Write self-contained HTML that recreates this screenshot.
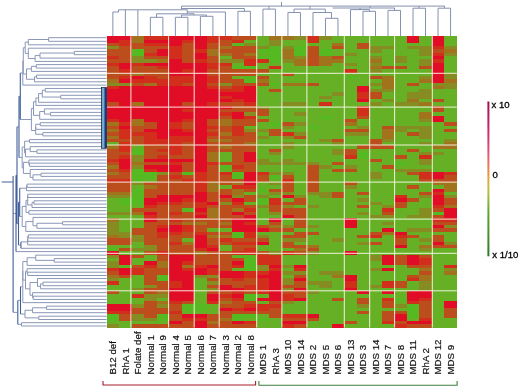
<!DOCTYPE html>
<html><head><meta charset="utf-8"><style>
html,body{margin:0;padding:0;background:#fff;}
body{width:520px;height:388px;overflow:hidden;}
svg{display:block;}
</style></head><body>
<svg width="520" height="388" viewBox="0 0 520 388">
<defs><filter id="bl" x="-5%" y="-5%" width="110%" height="110%"><feGaussianBlur stdDeviation="0.7"/></filter><filter id="bl2" x="-5%" y="-5%" width="110%" height="110%"><feGaussianBlur stdDeviation="0.35"/></filter></defs>
<g filter="url(#bl)"><g shape-rendering="crispEdges"><rect x="106.6" y="36.2" width="12.56" height="6.67" fill="#e10f28"/><rect x="106.6" y="42.82" width="12.56" height="3.36" fill="#bc4e1b"/><rect x="106.6" y="46.13" width="12.56" height="3.36" fill="#878c23"/><rect x="106.6" y="49.45" width="12.56" height="6.67" fill="#bc4e1b"/><rect x="106.6" y="56.07" width="12.56" height="3.36" fill="#d22d1e"/><rect x="106.6" y="59.38" width="12.56" height="3.36" fill="#bc4e1b"/><rect x="106.6" y="62.69" width="12.56" height="3.36" fill="#d22d1e"/><rect x="106.6" y="66" width="12.56" height="13.3" fill="#bc4e1b"/><rect x="106.6" y="79.25" width="12.56" height="3.36" fill="#a0731e"/><rect x="106.6" y="82.56" width="12.56" height="3.36" fill="#878c23"/><rect x="106.6" y="85.87" width="12.56" height="3.36" fill="#d22d1e"/><rect x="106.6" y="89.18" width="12.56" height="13.3" fill="#e10f28"/><rect x="106.6" y="102.43" width="12.56" height="3.36" fill="#bc4e1b"/><rect x="106.6" y="105.74" width="12.56" height="13.3" fill="#e10f28"/><rect x="106.6" y="118.98" width="12.56" height="3.36" fill="#d22d1e"/><rect x="106.6" y="122.3" width="12.56" height="3.36" fill="#a0731e"/><rect x="106.6" y="125.61" width="12.56" height="3.36" fill="#bc4e1b"/><rect x="106.6" y="128.92" width="12.56" height="3.36" fill="#a0731e"/><rect x="106.6" y="132.23" width="12.56" height="3.36" fill="#bc4e1b"/><rect x="106.6" y="135.54" width="12.56" height="3.36" fill="#a0731e"/><rect x="106.6" y="138.85" width="12.56" height="3.36" fill="#bc4e1b"/><rect x="106.6" y="142.16" width="12.56" height="3.36" fill="#66b026"/><rect x="106.6" y="145.48" width="12.56" height="3.36" fill="#a0731e"/><rect x="106.6" y="148.79" width="12.56" height="9.98" fill="#bc4e1b"/><rect x="106.6" y="158.72" width="12.56" height="3.36" fill="#d22d1e"/><rect x="106.6" y="162.03" width="12.56" height="3.36" fill="#bc4e1b"/><rect x="106.6" y="165.34" width="12.56" height="3.36" fill="#a0731e"/><rect x="106.6" y="168.65" width="12.56" height="3.36" fill="#bc4e1b"/><rect x="106.6" y="171.97" width="12.56" height="3.36" fill="#a0731e"/><rect x="106.6" y="175.28" width="12.56" height="3.36" fill="#bc4e1b"/><rect x="106.6" y="178.59" width="12.56" height="3.36" fill="#d22d1e"/><rect x="106.6" y="181.9" width="12.56" height="9.98" fill="#bc4e1b"/><rect x="106.6" y="191.83" width="12.56" height="3.36" fill="#a0731e"/><rect x="106.6" y="195.15" width="12.56" height="3.36" fill="#878c23"/><rect x="106.6" y="198.46" width="12.56" height="13.3" fill="#66b026"/><rect x="106.6" y="211.7" width="12.56" height="3.36" fill="#878c23"/><rect x="106.6" y="215.01" width="12.56" height="3.36" fill="#66b026"/><rect x="106.6" y="218.33" width="12.56" height="3.36" fill="#a0731e"/><rect x="106.6" y="221.64" width="12.56" height="13.3" fill="#878c23"/><rect x="106.6" y="234.88" width="12.56" height="3.36" fill="#a0731e"/><rect x="106.6" y="238.19" width="12.56" height="6.67" fill="#bc4e1b"/><rect x="106.6" y="244.82" width="12.56" height="3.36" fill="#66b026"/><rect x="106.6" y="248.13" width="12.56" height="3.36" fill="#55ba22"/><rect x="106.6" y="251.44" width="12.56" height="3.36" fill="#e10f28"/><rect x="106.6" y="254.75" width="12.56" height="3.36" fill="#878c23"/><rect x="106.6" y="258.06" width="12.56" height="3.36" fill="#66b026"/><rect x="106.6" y="261.37" width="12.56" height="6.67" fill="#878c23"/><rect x="106.6" y="268" width="12.56" height="3.36" fill="#d22d1e"/><rect x="106.6" y="271.31" width="12.56" height="3.36" fill="#bc4e1b"/><rect x="106.6" y="274.62" width="12.56" height="3.36" fill="#a0731e"/><rect x="106.6" y="277.93" width="12.56" height="3.36" fill="#878c23"/><rect x="106.6" y="281.24" width="12.56" height="3.36" fill="#d22d1e"/><rect x="106.6" y="284.55" width="12.56" height="6.67" fill="#66b026"/><rect x="106.6" y="291.18" width="12.56" height="3.36" fill="#bc4e1b"/><rect x="106.6" y="294.49" width="12.56" height="9.98" fill="#66b026"/><rect x="106.6" y="304.42" width="12.56" height="6.67" fill="#e10f28"/><rect x="106.6" y="311.04" width="12.56" height="3.36" fill="#d22d1e"/><rect x="106.6" y="314.35" width="12.56" height="6.67" fill="#55ba22"/><rect x="106.6" y="320.98" width="12.56" height="3.36" fill="#66b026"/><rect x="106.6" y="324.29" width="12.56" height="3.36" fill="#878c23"/><rect x="119.11" y="36.2" width="12.56" height="3.36" fill="#e10f28"/><rect x="119.11" y="39.51" width="12.56" height="6.67" fill="#d22d1e"/><rect x="119.11" y="46.13" width="12.56" height="16.61" fill="#bc4e1b"/><rect x="119.11" y="62.69" width="12.56" height="6.67" fill="#e10f28"/><rect x="119.11" y="69.31" width="12.56" height="3.36" fill="#d22d1e"/><rect x="119.11" y="72.62" width="12.56" height="3.36" fill="#bc4e1b"/><rect x="119.11" y="75.94" width="12.56" height="3.36" fill="#d22d1e"/><rect x="119.11" y="79.25" width="12.56" height="3.36" fill="#e10f28"/><rect x="119.11" y="82.56" width="12.56" height="3.36" fill="#878c23"/><rect x="119.11" y="85.87" width="12.56" height="36.48" fill="#e10f28"/><rect x="119.11" y="122.3" width="12.56" height="3.36" fill="#d22d1e"/><rect x="119.11" y="125.61" width="12.56" height="3.36" fill="#e10f28"/><rect x="119.11" y="128.92" width="12.56" height="9.98" fill="#d22d1e"/><rect x="119.11" y="138.85" width="12.56" height="3.36" fill="#bc4e1b"/><rect x="119.11" y="142.16" width="12.56" height="9.98" fill="#d22d1e"/><rect x="119.11" y="152.1" width="12.56" height="3.36" fill="#bc4e1b"/><rect x="119.11" y="155.41" width="12.56" height="3.36" fill="#d22d1e"/><rect x="119.11" y="158.72" width="12.56" height="9.98" fill="#e10f28"/><rect x="119.11" y="168.65" width="12.56" height="3.36" fill="#d22d1e"/><rect x="119.11" y="171.97" width="12.56" height="6.67" fill="#bc4e1b"/><rect x="119.11" y="178.59" width="12.56" height="3.36" fill="#d22d1e"/><rect x="119.11" y="181.9" width="12.56" height="9.98" fill="#bc4e1b"/><rect x="119.11" y="191.83" width="12.56" height="3.36" fill="#a0731e"/><rect x="119.11" y="195.15" width="12.56" height="3.36" fill="#878c23"/><rect x="119.11" y="198.46" width="12.56" height="6.67" fill="#55ba22"/><rect x="119.11" y="205.08" width="12.56" height="6.67" fill="#66b026"/><rect x="119.11" y="211.7" width="12.56" height="3.36" fill="#878c23"/><rect x="119.11" y="215.01" width="12.56" height="16.61" fill="#66b026"/><rect x="119.11" y="231.57" width="12.56" height="6.67" fill="#878c23"/><rect x="119.11" y="238.19" width="12.56" height="6.67" fill="#bc4e1b"/><rect x="119.11" y="244.82" width="12.56" height="3.36" fill="#66b026"/><rect x="119.11" y="248.13" width="12.56" height="3.36" fill="#bc4e1b"/><rect x="119.11" y="251.44" width="12.56" height="3.36" fill="#66b026"/><rect x="119.11" y="254.75" width="12.56" height="9.98" fill="#e10f28"/><rect x="119.11" y="264.68" width="12.56" height="3.36" fill="#66b026"/><rect x="119.11" y="268" width="12.56" height="6.67" fill="#e10f28"/><rect x="119.11" y="274.62" width="12.56" height="3.36" fill="#bc4e1b"/><rect x="119.11" y="277.93" width="12.56" height="26.54" fill="#66b026"/><rect x="119.11" y="304.42" width="12.56" height="6.67" fill="#e10f28"/><rect x="119.11" y="311.04" width="12.56" height="3.36" fill="#d22d1e"/><rect x="119.11" y="314.35" width="12.56" height="6.67" fill="#bc4e1b"/><rect x="119.11" y="320.98" width="12.56" height="6.67" fill="#66b026"/><rect x="131.61" y="36.2" width="12.56" height="6.67" fill="#a0731e"/><rect x="131.61" y="42.82" width="12.56" height="6.67" fill="#bc4e1b"/><rect x="131.61" y="49.45" width="12.56" height="6.67" fill="#55ba22"/><rect x="131.61" y="56.07" width="12.56" height="6.67" fill="#878c23"/><rect x="131.61" y="62.69" width="12.56" height="3.36" fill="#d22d1e"/><rect x="131.61" y="66" width="12.56" height="6.67" fill="#bc4e1b"/><rect x="131.61" y="72.62" width="12.56" height="3.36" fill="#a0731e"/><rect x="131.61" y="75.94" width="12.56" height="3.36" fill="#e10f28"/><rect x="131.61" y="79.25" width="12.56" height="3.36" fill="#d22d1e"/><rect x="131.61" y="82.56" width="12.56" height="3.36" fill="#bc4e1b"/><rect x="131.61" y="85.87" width="12.56" height="16.61" fill="#e10f28"/><rect x="131.61" y="102.43" width="12.56" height="3.36" fill="#a0731e"/><rect x="131.61" y="105.74" width="12.56" height="13.3" fill="#e10f28"/><rect x="131.61" y="118.98" width="12.56" height="6.67" fill="#a0731e"/><rect x="131.61" y="125.61" width="12.56" height="6.67" fill="#bc4e1b"/><rect x="131.61" y="132.23" width="12.56" height="3.36" fill="#d22d1e"/><rect x="131.61" y="135.54" width="12.56" height="9.98" fill="#bc4e1b"/><rect x="131.61" y="145.48" width="12.56" height="3.36" fill="#66b026"/><rect x="131.61" y="148.79" width="12.56" height="6.67" fill="#55ba22"/><rect x="131.61" y="155.41" width="12.56" height="6.67" fill="#878c23"/><rect x="131.61" y="162.03" width="12.56" height="3.36" fill="#a0731e"/><rect x="131.61" y="165.34" width="12.56" height="3.36" fill="#878c23"/><rect x="131.61" y="168.65" width="12.56" height="13.3" fill="#55ba22"/><rect x="131.61" y="181.9" width="12.56" height="3.36" fill="#878c23"/><rect x="131.61" y="185.21" width="12.56" height="3.36" fill="#66b026"/><rect x="131.61" y="188.52" width="12.56" height="16.61" fill="#55ba22"/><rect x="131.61" y="205.08" width="12.56" height="3.36" fill="#66b026"/><rect x="131.61" y="208.39" width="12.56" height="3.36" fill="#bc4e1b"/><rect x="131.61" y="211.7" width="12.56" height="3.36" fill="#a0731e"/><rect x="131.61" y="215.01" width="12.56" height="13.3" fill="#66b026"/><rect x="131.61" y="228.26" width="12.56" height="6.67" fill="#bc4e1b"/><rect x="131.61" y="234.88" width="12.56" height="6.67" fill="#878c23"/><rect x="131.61" y="241.5" width="12.56" height="6.67" fill="#66b026"/><rect x="131.61" y="248.13" width="12.56" height="3.36" fill="#878c23"/><rect x="131.61" y="251.44" width="12.56" height="3.36" fill="#66b026"/><rect x="131.61" y="254.75" width="12.56" height="3.36" fill="#bc4e1b"/><rect x="131.61" y="258.06" width="12.56" height="6.67" fill="#66b026"/><rect x="131.61" y="264.68" width="12.56" height="3.36" fill="#bc4e1b"/><rect x="131.61" y="268" width="12.56" height="6.67" fill="#d22d1e"/><rect x="131.61" y="274.62" width="12.56" height="13.3" fill="#66b026"/><rect x="131.61" y="287.86" width="12.56" height="3.36" fill="#878c23"/><rect x="131.61" y="291.18" width="12.56" height="3.36" fill="#66b026"/><rect x="131.61" y="294.49" width="12.56" height="3.36" fill="#d22d1e"/><rect x="131.61" y="297.8" width="12.56" height="6.67" fill="#66b026"/><rect x="131.61" y="304.42" width="12.56" height="3.36" fill="#878c23"/><rect x="131.61" y="307.73" width="12.56" height="6.67" fill="#bc4e1b"/><rect x="131.61" y="314.35" width="12.56" height="6.67" fill="#878c23"/><rect x="131.61" y="320.98" width="12.56" height="3.36" fill="#66b026"/><rect x="131.61" y="324.29" width="12.56" height="3.36" fill="#bc4e1b"/><rect x="144.12" y="36.2" width="12.56" height="3.36" fill="#d22d1e"/><rect x="144.12" y="39.51" width="12.56" height="3.36" fill="#e10f28"/><rect x="144.12" y="42.82" width="12.56" height="3.36" fill="#d22d1e"/><rect x="144.12" y="46.13" width="12.56" height="6.67" fill="#bc4e1b"/><rect x="144.12" y="52.76" width="12.56" height="3.36" fill="#d22d1e"/><rect x="144.12" y="56.07" width="12.56" height="3.36" fill="#bc4e1b"/><rect x="144.12" y="59.38" width="12.56" height="3.36" fill="#878c23"/><rect x="144.12" y="62.69" width="12.56" height="3.36" fill="#e10f28"/><rect x="144.12" y="66" width="12.56" height="9.98" fill="#bc4e1b"/><rect x="144.12" y="75.94" width="12.56" height="6.67" fill="#d22d1e"/><rect x="144.12" y="82.56" width="12.56" height="3.36" fill="#a0731e"/><rect x="144.12" y="85.87" width="12.56" height="36.48" fill="#e10f28"/><rect x="144.12" y="122.3" width="12.56" height="6.67" fill="#bc4e1b"/><rect x="144.12" y="128.92" width="12.56" height="3.36" fill="#e10f28"/><rect x="144.12" y="132.23" width="12.56" height="13.3" fill="#d22d1e"/><rect x="144.12" y="145.48" width="12.56" height="13.3" fill="#bc4e1b"/><rect x="144.12" y="158.72" width="12.56" height="3.36" fill="#e10f28"/><rect x="144.12" y="162.03" width="12.56" height="3.36" fill="#bc4e1b"/><rect x="144.12" y="165.34" width="12.56" height="3.36" fill="#e10f28"/><rect x="144.12" y="168.65" width="12.56" height="3.36" fill="#d22d1e"/><rect x="144.12" y="171.97" width="12.56" height="6.67" fill="#55ba22"/><rect x="144.12" y="178.59" width="12.56" height="3.36" fill="#66b026"/><rect x="144.12" y="181.9" width="12.56" height="3.36" fill="#bc4e1b"/><rect x="144.12" y="185.21" width="12.56" height="3.36" fill="#a0731e"/><rect x="144.12" y="188.52" width="12.56" height="9.98" fill="#bc4e1b"/><rect x="144.12" y="198.46" width="12.56" height="6.67" fill="#e10f28"/><rect x="144.12" y="205.08" width="12.56" height="3.36" fill="#d22d1e"/><rect x="144.12" y="208.39" width="12.56" height="3.36" fill="#bc4e1b"/><rect x="144.12" y="211.7" width="12.56" height="3.36" fill="#e10f28"/><rect x="144.12" y="215.01" width="12.56" height="3.36" fill="#d22d1e"/><rect x="144.12" y="218.33" width="12.56" height="3.36" fill="#e10f28"/><rect x="144.12" y="221.64" width="12.56" height="23.23" fill="#bc4e1b"/><rect x="144.12" y="244.82" width="12.56" height="6.67" fill="#878c23"/><rect x="144.12" y="251.44" width="12.56" height="3.36" fill="#bc4e1b"/><rect x="144.12" y="254.75" width="12.56" height="6.67" fill="#66b026"/><rect x="144.12" y="261.37" width="12.56" height="3.36" fill="#e10f28"/><rect x="144.12" y="264.68" width="12.56" height="3.36" fill="#d22d1e"/><rect x="144.12" y="268" width="12.56" height="16.61" fill="#bc4e1b"/><rect x="144.12" y="284.55" width="12.56" height="3.36" fill="#878c23"/><rect x="144.12" y="287.86" width="12.56" height="6.67" fill="#bc4e1b"/><rect x="144.12" y="294.49" width="12.56" height="6.67" fill="#878c23"/><rect x="144.12" y="301.11" width="12.56" height="16.61" fill="#bc4e1b"/><rect x="144.12" y="317.67" width="12.56" height="3.36" fill="#878c23"/><rect x="144.12" y="320.98" width="12.56" height="3.36" fill="#66b026"/><rect x="144.12" y="324.29" width="12.56" height="3.36" fill="#bc4e1b"/><rect x="156.63" y="36.2" width="12.56" height="3.36" fill="#d22d1e"/><rect x="156.63" y="39.51" width="12.56" height="3.36" fill="#e10f28"/><rect x="156.63" y="42.82" width="12.56" height="3.36" fill="#d22d1e"/><rect x="156.63" y="46.13" width="12.56" height="3.36" fill="#bc4e1b"/><rect x="156.63" y="49.45" width="12.56" height="6.67" fill="#e10f28"/><rect x="156.63" y="56.07" width="12.56" height="3.36" fill="#bc4e1b"/><rect x="156.63" y="59.38" width="12.56" height="3.36" fill="#a0731e"/><rect x="156.63" y="62.69" width="12.56" height="3.36" fill="#e10f28"/><rect x="156.63" y="66" width="12.56" height="3.36" fill="#d22d1e"/><rect x="156.63" y="69.31" width="12.56" height="9.98" fill="#bc4e1b"/><rect x="156.63" y="79.25" width="12.56" height="6.67" fill="#d22d1e"/><rect x="156.63" y="85.87" width="12.56" height="53.03" fill="#e10f28"/><rect x="156.63" y="138.85" width="12.56" height="6.67" fill="#d22d1e"/><rect x="156.63" y="145.48" width="12.56" height="3.36" fill="#bc4e1b"/><rect x="156.63" y="148.79" width="12.56" height="3.36" fill="#d22d1e"/><rect x="156.63" y="152.1" width="12.56" height="3.36" fill="#bc4e1b"/><rect x="156.63" y="155.41" width="12.56" height="3.36" fill="#d22d1e"/><rect x="156.63" y="158.72" width="12.56" height="3.36" fill="#e10f28"/><rect x="156.63" y="162.03" width="12.56" height="3.36" fill="#bc4e1b"/><rect x="156.63" y="165.34" width="12.56" height="6.67" fill="#e10f28"/><rect x="156.63" y="171.97" width="12.56" height="3.36" fill="#878c23"/><rect x="156.63" y="175.28" width="12.56" height="19.92" fill="#bc4e1b"/><rect x="156.63" y="195.15" width="12.56" height="6.67" fill="#e10f28"/><rect x="156.63" y="201.77" width="12.56" height="3.36" fill="#d22d1e"/><rect x="156.63" y="205.08" width="12.56" height="19.92" fill="#bc4e1b"/><rect x="156.63" y="224.95" width="12.56" height="3.36" fill="#d22d1e"/><rect x="156.63" y="228.26" width="12.56" height="3.36" fill="#e10f28"/><rect x="156.63" y="231.57" width="12.56" height="6.67" fill="#d22d1e"/><rect x="156.63" y="238.19" width="12.56" height="13.3" fill="#bc4e1b"/><rect x="156.63" y="251.44" width="12.56" height="3.36" fill="#d22d1e"/><rect x="156.63" y="254.75" width="12.56" height="6.67" fill="#bc4e1b"/><rect x="156.63" y="261.37" width="12.56" height="6.67" fill="#a0731e"/><rect x="156.63" y="268" width="12.56" height="6.67" fill="#bc4e1b"/><rect x="156.63" y="274.62" width="12.56" height="6.67" fill="#55ba22"/><rect x="156.63" y="281.24" width="12.56" height="9.98" fill="#bc4e1b"/><rect x="156.63" y="291.18" width="12.56" height="3.36" fill="#a0731e"/><rect x="156.63" y="294.49" width="12.56" height="3.36" fill="#878c23"/><rect x="156.63" y="297.8" width="12.56" height="3.36" fill="#66b026"/><rect x="156.63" y="301.11" width="12.56" height="3.36" fill="#a0731e"/><rect x="156.63" y="304.42" width="12.56" height="3.36" fill="#878c23"/><rect x="156.63" y="307.73" width="12.56" height="6.67" fill="#bc4e1b"/><rect x="156.63" y="314.35" width="12.56" height="6.67" fill="#55ba22"/><rect x="156.63" y="320.98" width="12.56" height="3.36" fill="#66b026"/><rect x="156.63" y="324.29" width="12.56" height="3.36" fill="#bc4e1b"/><rect x="169.14" y="36.2" width="12.56" height="9.98" fill="#e10f28"/><rect x="169.14" y="46.13" width="12.56" height="13.3" fill="#d22d1e"/><rect x="169.14" y="59.38" width="12.56" height="16.61" fill="#e10f28"/><rect x="169.14" y="75.94" width="12.56" height="9.98" fill="#d22d1e"/><rect x="169.14" y="85.87" width="12.56" height="36.48" fill="#e10f28"/><rect x="169.14" y="122.3" width="12.56" height="6.67" fill="#d22d1e"/><rect x="169.14" y="128.92" width="12.56" height="6.67" fill="#e10f28"/><rect x="169.14" y="135.54" width="12.56" height="19.92" fill="#d22d1e"/><rect x="169.14" y="155.41" width="12.56" height="3.36" fill="#bc4e1b"/><rect x="169.14" y="158.72" width="12.56" height="3.36" fill="#e10f28"/><rect x="169.14" y="162.03" width="12.56" height="3.36" fill="#d22d1e"/><rect x="169.14" y="165.34" width="12.56" height="6.67" fill="#e10f28"/><rect x="169.14" y="171.97" width="12.56" height="3.36" fill="#bc4e1b"/><rect x="169.14" y="175.28" width="12.56" height="3.36" fill="#d22d1e"/><rect x="169.14" y="178.59" width="12.56" height="16.61" fill="#bc4e1b"/><rect x="169.14" y="195.15" width="12.56" height="6.67" fill="#e10f28"/><rect x="169.14" y="201.77" width="12.56" height="3.36" fill="#d22d1e"/><rect x="169.14" y="205.08" width="12.56" height="6.67" fill="#bc4e1b"/><rect x="169.14" y="211.7" width="12.56" height="3.36" fill="#d22d1e"/><rect x="169.14" y="215.01" width="12.56" height="3.36" fill="#bc4e1b"/><rect x="169.14" y="218.33" width="12.56" height="3.36" fill="#d22d1e"/><rect x="169.14" y="221.64" width="12.56" height="3.36" fill="#bc4e1b"/><rect x="169.14" y="224.95" width="12.56" height="6.67" fill="#e10f28"/><rect x="169.14" y="231.57" width="12.56" height="3.36" fill="#d22d1e"/><rect x="169.14" y="234.88" width="12.56" height="6.67" fill="#bc4e1b"/><rect x="169.14" y="241.5" width="12.56" height="3.36" fill="#d22d1e"/><rect x="169.14" y="244.82" width="12.56" height="9.98" fill="#bc4e1b"/><rect x="169.14" y="254.75" width="12.56" height="26.54" fill="#e10f28"/><rect x="169.14" y="281.24" width="12.56" height="6.67" fill="#d22d1e"/><rect x="169.14" y="287.86" width="12.56" height="13.3" fill="#e10f28"/><rect x="169.14" y="301.11" width="12.56" height="3.36" fill="#d22d1e"/><rect x="169.14" y="304.42" width="12.56" height="6.67" fill="#bc4e1b"/><rect x="169.14" y="311.04" width="12.56" height="3.36" fill="#d22d1e"/><rect x="169.14" y="314.35" width="12.56" height="6.67" fill="#bc4e1b"/><rect x="169.14" y="320.98" width="12.56" height="3.36" fill="#e10f28"/><rect x="169.14" y="324.29" width="12.56" height="3.36" fill="#bc4e1b"/><rect x="181.64" y="36.2" width="12.56" height="3.36" fill="#e10f28"/><rect x="181.64" y="39.51" width="12.56" height="3.36" fill="#d22d1e"/><rect x="181.64" y="42.82" width="12.56" height="19.92" fill="#bc4e1b"/><rect x="181.64" y="62.69" width="12.56" height="6.67" fill="#e10f28"/><rect x="181.64" y="69.31" width="12.56" height="3.36" fill="#d22d1e"/><rect x="181.64" y="72.62" width="12.56" height="3.36" fill="#e10f28"/><rect x="181.64" y="75.94" width="12.56" height="6.67" fill="#d22d1e"/><rect x="181.64" y="82.56" width="12.56" height="3.36" fill="#bc4e1b"/><rect x="181.64" y="85.87" width="12.56" height="16.61" fill="#e10f28"/><rect x="181.64" y="102.43" width="12.56" height="3.36" fill="#bc4e1b"/><rect x="181.64" y="105.74" width="12.56" height="3.36" fill="#e10f28"/><rect x="181.64" y="109.05" width="12.56" height="3.36" fill="#d22d1e"/><rect x="181.64" y="112.36" width="12.56" height="6.67" fill="#e10f28"/><rect x="181.64" y="118.98" width="12.56" height="3.36" fill="#d22d1e"/><rect x="181.64" y="122.3" width="12.56" height="6.67" fill="#bc4e1b"/><rect x="181.64" y="128.92" width="12.56" height="3.36" fill="#d22d1e"/><rect x="181.64" y="132.23" width="12.56" height="3.36" fill="#e10f28"/><rect x="181.64" y="135.54" width="12.56" height="6.67" fill="#d22d1e"/><rect x="181.64" y="142.16" width="12.56" height="16.61" fill="#bc4e1b"/><rect x="181.64" y="158.72" width="12.56" height="3.36" fill="#e10f28"/><rect x="181.64" y="162.03" width="12.56" height="9.98" fill="#bc4e1b"/><rect x="181.64" y="171.97" width="12.56" height="3.36" fill="#55ba22"/><rect x="181.64" y="175.28" width="12.56" height="3.36" fill="#bc4e1b"/><rect x="181.64" y="178.59" width="12.56" height="3.36" fill="#d22d1e"/><rect x="181.64" y="181.9" width="12.56" height="13.3" fill="#bc4e1b"/><rect x="181.64" y="195.15" width="12.56" height="3.36" fill="#e10f28"/><rect x="181.64" y="198.46" width="12.56" height="3.36" fill="#d22d1e"/><rect x="181.64" y="201.77" width="12.56" height="6.67" fill="#bc4e1b"/><rect x="181.64" y="208.39" width="12.56" height="3.36" fill="#55ba22"/><rect x="181.64" y="211.7" width="12.56" height="9.98" fill="#bc4e1b"/><rect x="181.64" y="221.64" width="12.56" height="3.36" fill="#a0731e"/><rect x="181.64" y="224.95" width="12.56" height="6.67" fill="#d22d1e"/><rect x="181.64" y="231.57" width="12.56" height="6.67" fill="#bc4e1b"/><rect x="181.64" y="238.19" width="12.56" height="3.36" fill="#66b026"/><rect x="181.64" y="241.5" width="12.56" height="3.36" fill="#a0731e"/><rect x="181.64" y="244.82" width="12.56" height="9.98" fill="#bc4e1b"/><rect x="181.64" y="254.75" width="12.56" height="6.67" fill="#e10f28"/><rect x="181.64" y="261.37" width="12.56" height="3.36" fill="#d22d1e"/><rect x="181.64" y="264.68" width="12.56" height="3.36" fill="#a0731e"/><rect x="181.64" y="268" width="12.56" height="3.36" fill="#d22d1e"/><rect x="181.64" y="271.31" width="12.56" height="29.85" fill="#e10f28"/><rect x="181.64" y="301.11" width="12.56" height="3.36" fill="#bc4e1b"/><rect x="181.64" y="304.42" width="12.56" height="6.67" fill="#55ba22"/><rect x="181.64" y="311.04" width="12.56" height="3.36" fill="#66b026"/><rect x="181.64" y="314.35" width="12.56" height="3.36" fill="#e10f28"/><rect x="181.64" y="317.67" width="12.56" height="3.36" fill="#d22d1e"/><rect x="181.64" y="320.98" width="12.56" height="6.67" fill="#bc4e1b"/><rect x="194.15" y="36.2" width="12.56" height="13.3" fill="#e10f28"/><rect x="194.15" y="49.45" width="12.56" height="3.36" fill="#d22d1e"/><rect x="194.15" y="52.76" width="12.56" height="6.67" fill="#e10f28"/><rect x="194.15" y="59.38" width="12.56" height="3.36" fill="#d22d1e"/><rect x="194.15" y="62.69" width="12.56" height="109.33" fill="#e10f28"/><rect x="194.15" y="171.97" width="12.56" height="19.92" fill="#d22d1e"/><rect x="194.15" y="191.83" width="12.56" height="9.98" fill="#e10f28"/><rect x="194.15" y="201.77" width="12.56" height="6.67" fill="#d22d1e"/><rect x="194.15" y="208.39" width="12.56" height="3.36" fill="#e10f28"/><rect x="194.15" y="211.7" width="12.56" height="3.36" fill="#d22d1e"/><rect x="194.15" y="215.01" width="12.56" height="3.36" fill="#e10f28"/><rect x="194.15" y="218.33" width="12.56" height="3.36" fill="#bc4e1b"/><rect x="194.15" y="221.64" width="12.56" height="3.36" fill="#a0731e"/><rect x="194.15" y="224.95" width="12.56" height="6.67" fill="#bc4e1b"/><rect x="194.15" y="231.57" width="12.56" height="3.36" fill="#d22d1e"/><rect x="194.15" y="234.88" width="12.56" height="13.3" fill="#e10f28"/><rect x="194.15" y="248.13" width="12.56" height="3.36" fill="#d22d1e"/><rect x="194.15" y="251.44" width="12.56" height="3.36" fill="#a0731e"/><rect x="194.15" y="254.75" width="12.56" height="9.98" fill="#bc4e1b"/><rect x="194.15" y="264.68" width="12.56" height="3.36" fill="#d22d1e"/><rect x="194.15" y="268" width="12.56" height="6.67" fill="#e10f28"/><rect x="194.15" y="274.62" width="12.56" height="3.36" fill="#878c23"/><rect x="194.15" y="277.93" width="12.56" height="26.54" fill="#66b026"/><rect x="194.15" y="304.42" width="12.56" height="6.67" fill="#55ba22"/><rect x="194.15" y="311.04" width="12.56" height="3.36" fill="#66b026"/><rect x="194.15" y="314.35" width="12.56" height="3.36" fill="#e10f28"/><rect x="194.15" y="317.67" width="12.56" height="3.36" fill="#d22d1e"/><rect x="194.15" y="320.98" width="12.56" height="6.67" fill="#e10f28"/><rect x="206.66" y="36.2" width="12.56" height="6.67" fill="#d22d1e"/><rect x="206.66" y="42.82" width="12.56" height="6.67" fill="#bc4e1b"/><rect x="206.66" y="49.45" width="12.56" height="6.67" fill="#a0731e"/><rect x="206.66" y="56.07" width="12.56" height="6.67" fill="#bc4e1b"/><rect x="206.66" y="62.69" width="12.56" height="6.67" fill="#d22d1e"/><rect x="206.66" y="69.31" width="12.56" height="6.67" fill="#bc4e1b"/><rect x="206.66" y="75.94" width="12.56" height="6.67" fill="#d22d1e"/><rect x="206.66" y="82.56" width="12.56" height="3.36" fill="#bc4e1b"/><rect x="206.66" y="85.87" width="12.56" height="3.36" fill="#d22d1e"/><rect x="206.66" y="89.18" width="12.56" height="13.3" fill="#e10f28"/><rect x="206.66" y="102.43" width="12.56" height="3.36" fill="#d22d1e"/><rect x="206.66" y="105.74" width="12.56" height="13.3" fill="#e10f28"/><rect x="206.66" y="118.98" width="12.56" height="6.67" fill="#bc4e1b"/><rect x="206.66" y="125.61" width="12.56" height="3.36" fill="#d22d1e"/><rect x="206.66" y="128.92" width="12.56" height="3.36" fill="#bc4e1b"/><rect x="206.66" y="132.23" width="12.56" height="3.36" fill="#d22d1e"/><rect x="206.66" y="135.54" width="12.56" height="3.36" fill="#bc4e1b"/><rect x="206.66" y="138.85" width="12.56" height="3.36" fill="#a0731e"/><rect x="206.66" y="142.16" width="12.56" height="9.98" fill="#bc4e1b"/><rect x="206.66" y="152.1" width="12.56" height="9.98" fill="#a0731e"/><rect x="206.66" y="162.03" width="12.56" height="3.36" fill="#d22d1e"/><rect x="206.66" y="165.34" width="12.56" height="16.61" fill="#bc4e1b"/><rect x="206.66" y="181.9" width="12.56" height="9.98" fill="#a0731e"/><rect x="206.66" y="191.83" width="12.56" height="9.98" fill="#bc4e1b"/><rect x="206.66" y="201.77" width="12.56" height="3.36" fill="#e10f28"/><rect x="206.66" y="205.08" width="12.56" height="3.36" fill="#bc4e1b"/><rect x="206.66" y="208.39" width="12.56" height="9.98" fill="#a0731e"/><rect x="206.66" y="218.33" width="12.56" height="9.98" fill="#bc4e1b"/><rect x="206.66" y="228.26" width="12.56" height="3.36" fill="#66b026"/><rect x="206.66" y="231.57" width="12.56" height="3.36" fill="#bc4e1b"/><rect x="206.66" y="234.88" width="12.56" height="3.36" fill="#a0731e"/><rect x="206.66" y="238.19" width="12.56" height="6.67" fill="#bc4e1b"/><rect x="206.66" y="244.82" width="12.56" height="3.36" fill="#d22d1e"/><rect x="206.66" y="248.13" width="12.56" height="3.36" fill="#e10f28"/><rect x="206.66" y="251.44" width="12.56" height="13.3" fill="#bc4e1b"/><rect x="206.66" y="264.68" width="12.56" height="3.36" fill="#e10f28"/><rect x="206.66" y="268" width="12.56" height="6.67" fill="#d22d1e"/><rect x="206.66" y="274.62" width="12.56" height="3.36" fill="#878c23"/><rect x="206.66" y="277.93" width="12.56" height="3.36" fill="#bc4e1b"/><rect x="206.66" y="281.24" width="12.56" height="3.36" fill="#878c23"/><rect x="206.66" y="284.55" width="12.56" height="3.36" fill="#bc4e1b"/><rect x="206.66" y="287.86" width="12.56" height="3.36" fill="#878c23"/><rect x="206.66" y="291.18" width="12.56" height="3.36" fill="#bc4e1b"/><rect x="206.66" y="294.49" width="12.56" height="6.67" fill="#e10f28"/><rect x="206.66" y="301.11" width="12.56" height="3.36" fill="#d22d1e"/><rect x="206.66" y="304.42" width="12.56" height="9.98" fill="#66b026"/><rect x="206.66" y="314.35" width="12.56" height="6.67" fill="#bc4e1b"/><rect x="206.66" y="320.98" width="12.56" height="3.36" fill="#a0731e"/><rect x="206.66" y="324.29" width="12.56" height="3.36" fill="#bc4e1b"/><rect x="219.16" y="36.2" width="12.56" height="3.36" fill="#d22d1e"/><rect x="219.16" y="39.51" width="12.56" height="6.67" fill="#bc4e1b"/><rect x="219.16" y="46.13" width="12.56" height="3.36" fill="#a0731e"/><rect x="219.16" y="49.45" width="12.56" height="3.36" fill="#bc4e1b"/><rect x="219.16" y="52.76" width="12.56" height="3.36" fill="#a0731e"/><rect x="219.16" y="56.07" width="12.56" height="3.36" fill="#66b026"/><rect x="219.16" y="59.38" width="12.56" height="3.36" fill="#878c23"/><rect x="219.16" y="62.69" width="12.56" height="3.36" fill="#d22d1e"/><rect x="219.16" y="66" width="12.56" height="16.61" fill="#bc4e1b"/><rect x="219.16" y="82.56" width="12.56" height="3.36" fill="#878c23"/><rect x="219.16" y="85.87" width="12.56" height="3.36" fill="#bc4e1b"/><rect x="219.16" y="89.18" width="12.56" height="3.36" fill="#d22d1e"/><rect x="219.16" y="92.49" width="12.56" height="3.36" fill="#e10f28"/><rect x="219.16" y="95.8" width="12.56" height="3.36" fill="#d22d1e"/><rect x="219.16" y="99.12" width="12.56" height="3.36" fill="#e10f28"/><rect x="219.16" y="102.43" width="12.56" height="3.36" fill="#bc4e1b"/><rect x="219.16" y="105.74" width="12.56" height="3.36" fill="#e10f28"/><rect x="219.16" y="109.05" width="12.56" height="3.36" fill="#bc4e1b"/><rect x="219.16" y="112.36" width="12.56" height="3.36" fill="#d22d1e"/><rect x="219.16" y="115.67" width="12.56" height="3.36" fill="#bc4e1b"/><rect x="219.16" y="118.98" width="12.56" height="6.67" fill="#a0731e"/><rect x="219.16" y="125.61" width="12.56" height="6.67" fill="#bc4e1b"/><rect x="219.16" y="132.23" width="12.56" height="3.36" fill="#a0731e"/><rect x="219.16" y="135.54" width="12.56" height="3.36" fill="#bc4e1b"/><rect x="219.16" y="138.85" width="12.56" height="3.36" fill="#a0731e"/><rect x="219.16" y="142.16" width="12.56" height="3.36" fill="#bc4e1b"/><rect x="219.16" y="145.48" width="12.56" height="3.36" fill="#a0731e"/><rect x="219.16" y="148.79" width="12.56" height="3.36" fill="#bc4e1b"/><rect x="219.16" y="152.1" width="12.56" height="9.98" fill="#66b026"/><rect x="219.16" y="162.03" width="12.56" height="3.36" fill="#bc4e1b"/><rect x="219.16" y="165.34" width="12.56" height="3.36" fill="#55ba22"/><rect x="219.16" y="168.65" width="12.56" height="3.36" fill="#66b026"/><rect x="219.16" y="171.97" width="12.56" height="3.36" fill="#d22d1e"/><rect x="219.16" y="175.28" width="12.56" height="9.98" fill="#bc4e1b"/><rect x="219.16" y="185.21" width="12.56" height="3.36" fill="#66b026"/><rect x="219.16" y="188.52" width="12.56" height="6.67" fill="#bc4e1b"/><rect x="219.16" y="195.15" width="12.56" height="3.36" fill="#e10f28"/><rect x="219.16" y="198.46" width="12.56" height="3.36" fill="#bc4e1b"/><rect x="219.16" y="201.77" width="12.56" height="3.36" fill="#878c23"/><rect x="219.16" y="205.08" width="12.56" height="16.61" fill="#bc4e1b"/><rect x="219.16" y="221.64" width="12.56" height="3.36" fill="#a0731e"/><rect x="219.16" y="224.95" width="12.56" height="3.36" fill="#bc4e1b"/><rect x="219.16" y="228.26" width="12.56" height="3.36" fill="#66b026"/><rect x="219.16" y="231.57" width="12.56" height="3.36" fill="#bc4e1b"/><rect x="219.16" y="234.88" width="12.56" height="3.36" fill="#a0731e"/><rect x="219.16" y="238.19" width="12.56" height="3.36" fill="#d22d1e"/><rect x="219.16" y="241.5" width="12.56" height="3.36" fill="#bc4e1b"/><rect x="219.16" y="244.82" width="12.56" height="6.67" fill="#66b026"/><rect x="219.16" y="251.44" width="12.56" height="19.92" fill="#bc4e1b"/><rect x="219.16" y="271.31" width="12.56" height="6.67" fill="#e10f28"/><rect x="219.16" y="277.93" width="12.56" height="6.67" fill="#bc4e1b"/><rect x="219.16" y="284.55" width="12.56" height="6.67" fill="#e10f28"/><rect x="219.16" y="291.18" width="12.56" height="3.36" fill="#bc4e1b"/><rect x="219.16" y="294.49" width="12.56" height="3.36" fill="#d22d1e"/><rect x="219.16" y="297.8" width="12.56" height="3.36" fill="#bc4e1b"/><rect x="219.16" y="301.11" width="12.56" height="3.36" fill="#a0731e"/><rect x="219.16" y="304.42" width="12.56" height="3.36" fill="#bc4e1b"/><rect x="219.16" y="307.73" width="12.56" height="3.36" fill="#e10f28"/><rect x="219.16" y="311.04" width="12.56" height="6.67" fill="#bc4e1b"/><rect x="219.16" y="317.67" width="12.56" height="3.36" fill="#a0731e"/><rect x="219.16" y="320.98" width="12.56" height="6.67" fill="#bc4e1b"/><rect x="231.67" y="36.2" width="12.56" height="3.36" fill="#bc4e1b"/><rect x="231.67" y="39.51" width="12.56" height="3.36" fill="#d22d1e"/><rect x="231.67" y="42.82" width="12.56" height="3.36" fill="#55ba22"/><rect x="231.67" y="46.13" width="12.56" height="13.3" fill="#bc4e1b"/><rect x="231.67" y="59.38" width="12.56" height="3.36" fill="#878c23"/><rect x="231.67" y="62.69" width="12.56" height="3.36" fill="#66b026"/><rect x="231.67" y="66" width="12.56" height="3.36" fill="#55ba22"/><rect x="231.67" y="69.31" width="12.56" height="6.67" fill="#bc4e1b"/><rect x="231.67" y="75.94" width="12.56" height="3.36" fill="#66b026"/><rect x="231.67" y="79.25" width="12.56" height="6.67" fill="#bc4e1b"/><rect x="231.67" y="85.87" width="12.56" height="6.67" fill="#d22d1e"/><rect x="231.67" y="92.49" width="12.56" height="6.67" fill="#e10f28"/><rect x="231.67" y="99.12" width="12.56" height="3.36" fill="#d22d1e"/><rect x="231.67" y="102.43" width="12.56" height="9.98" fill="#bc4e1b"/><rect x="231.67" y="112.36" width="12.56" height="6.67" fill="#e10f28"/><rect x="231.67" y="118.98" width="12.56" height="6.67" fill="#bc4e1b"/><rect x="231.67" y="125.61" width="12.56" height="9.98" fill="#d22d1e"/><rect x="231.67" y="135.54" width="12.56" height="29.85" fill="#bc4e1b"/><rect x="231.67" y="165.34" width="12.56" height="3.36" fill="#d22d1e"/><rect x="231.67" y="168.65" width="12.56" height="3.36" fill="#bc4e1b"/><rect x="231.67" y="171.97" width="12.56" height="6.67" fill="#55ba22"/><rect x="231.67" y="178.59" width="12.56" height="3.36" fill="#bc4e1b"/><rect x="231.67" y="181.9" width="12.56" height="3.36" fill="#a0731e"/><rect x="231.67" y="185.21" width="12.56" height="3.36" fill="#d22d1e"/><rect x="231.67" y="188.52" width="12.56" height="6.67" fill="#a0731e"/><rect x="231.67" y="195.15" width="12.56" height="3.36" fill="#878c23"/><rect x="231.67" y="198.46" width="12.56" height="3.36" fill="#e10f28"/><rect x="231.67" y="201.77" width="12.56" height="3.36" fill="#d22d1e"/><rect x="231.67" y="205.08" width="12.56" height="3.36" fill="#bc4e1b"/><rect x="231.67" y="208.39" width="12.56" height="3.36" fill="#a0731e"/><rect x="231.67" y="211.7" width="12.56" height="3.36" fill="#e10f28"/><rect x="231.67" y="215.01" width="12.56" height="3.36" fill="#bc4e1b"/><rect x="231.67" y="218.33" width="12.56" height="13.3" fill="#e10f28"/><rect x="231.67" y="231.57" width="12.56" height="6.67" fill="#55ba22"/><rect x="231.67" y="238.19" width="12.56" height="3.36" fill="#bc4e1b"/><rect x="231.67" y="241.5" width="12.56" height="3.36" fill="#d22d1e"/><rect x="231.67" y="244.82" width="12.56" height="6.67" fill="#bc4e1b"/><rect x="231.67" y="251.44" width="12.56" height="3.36" fill="#d22d1e"/><rect x="231.67" y="254.75" width="12.56" height="3.36" fill="#55ba22"/><rect x="231.67" y="258.06" width="12.56" height="3.36" fill="#bc4e1b"/><rect x="231.67" y="261.37" width="12.56" height="3.36" fill="#e10f28"/><rect x="231.67" y="264.68" width="12.56" height="3.36" fill="#d22d1e"/><rect x="231.67" y="268" width="12.56" height="3.36" fill="#66b026"/><rect x="231.67" y="271.31" width="12.56" height="6.67" fill="#e10f28"/><rect x="231.67" y="277.93" width="12.56" height="3.36" fill="#d22d1e"/><rect x="231.67" y="281.24" width="12.56" height="6.67" fill="#bc4e1b"/><rect x="231.67" y="287.86" width="12.56" height="3.36" fill="#e10f28"/><rect x="231.67" y="291.18" width="12.56" height="3.36" fill="#d22d1e"/><rect x="231.67" y="294.49" width="12.56" height="3.36" fill="#e10f28"/><rect x="231.67" y="297.8" width="12.56" height="3.36" fill="#d22d1e"/><rect x="231.67" y="301.11" width="12.56" height="6.67" fill="#bc4e1b"/><rect x="231.67" y="307.73" width="12.56" height="3.36" fill="#d22d1e"/><rect x="231.67" y="311.04" width="12.56" height="3.36" fill="#bc4e1b"/><rect x="231.67" y="314.35" width="12.56" height="6.67" fill="#55ba22"/><rect x="231.67" y="320.98" width="12.56" height="3.36" fill="#e10f28"/><rect x="231.67" y="324.29" width="12.56" height="3.36" fill="#bc4e1b"/><rect x="244.18" y="36.2" width="12.56" height="3.36" fill="#bc4e1b"/><rect x="244.18" y="39.51" width="12.56" height="3.36" fill="#66b026"/><rect x="244.18" y="42.82" width="12.56" height="3.36" fill="#878c23"/><rect x="244.18" y="46.13" width="12.56" height="6.67" fill="#bc4e1b"/><rect x="244.18" y="52.76" width="12.56" height="3.36" fill="#a0731e"/><rect x="244.18" y="56.07" width="12.56" height="3.36" fill="#bc4e1b"/><rect x="244.18" y="59.38" width="12.56" height="6.67" fill="#d22d1e"/><rect x="244.18" y="66" width="12.56" height="3.36" fill="#55ba22"/><rect x="244.18" y="69.31" width="12.56" height="6.67" fill="#bc4e1b"/><rect x="244.18" y="75.94" width="12.56" height="6.67" fill="#55ba22"/><rect x="244.18" y="82.56" width="12.56" height="3.36" fill="#bc4e1b"/><rect x="244.18" y="85.87" width="12.56" height="16.61" fill="#e10f28"/><rect x="244.18" y="102.43" width="12.56" height="3.36" fill="#d22d1e"/><rect x="244.18" y="105.74" width="12.56" height="6.67" fill="#bc4e1b"/><rect x="244.18" y="112.36" width="12.56" height="3.36" fill="#878c23"/><rect x="244.18" y="115.67" width="12.56" height="3.36" fill="#d22d1e"/><rect x="244.18" y="118.98" width="12.56" height="6.67" fill="#bc4e1b"/><rect x="244.18" y="125.61" width="12.56" height="3.36" fill="#66b026"/><rect x="244.18" y="128.92" width="12.56" height="3.36" fill="#878c23"/><rect x="244.18" y="132.23" width="12.56" height="9.98" fill="#bc4e1b"/><rect x="244.18" y="142.16" width="12.56" height="3.36" fill="#a0731e"/><rect x="244.18" y="145.48" width="12.56" height="6.67" fill="#bc4e1b"/><rect x="244.18" y="152.1" width="12.56" height="9.98" fill="#e10f28"/><rect x="244.18" y="162.03" width="12.56" height="9.98" fill="#bc4e1b"/><rect x="244.18" y="171.97" width="12.56" height="13.3" fill="#e10f28"/><rect x="244.18" y="185.21" width="12.56" height="3.36" fill="#d22d1e"/><rect x="244.18" y="188.52" width="12.56" height="3.36" fill="#bc4e1b"/><rect x="244.18" y="191.83" width="12.56" height="3.36" fill="#66b026"/><rect x="244.18" y="195.15" width="12.56" height="6.67" fill="#bc4e1b"/><rect x="244.18" y="201.77" width="12.56" height="3.36" fill="#66b026"/><rect x="244.18" y="205.08" width="12.56" height="3.36" fill="#bc4e1b"/><rect x="244.18" y="208.39" width="12.56" height="3.36" fill="#d22d1e"/><rect x="244.18" y="211.7" width="12.56" height="3.36" fill="#bc4e1b"/><rect x="244.18" y="215.01" width="12.56" height="6.67" fill="#e10f28"/><rect x="244.18" y="221.64" width="12.56" height="3.36" fill="#d22d1e"/><rect x="244.18" y="224.95" width="12.56" height="6.67" fill="#e10f28"/><rect x="244.18" y="231.57" width="12.56" height="6.67" fill="#d22d1e"/><rect x="244.18" y="238.19" width="12.56" height="3.36" fill="#bc4e1b"/><rect x="244.18" y="241.5" width="12.56" height="3.36" fill="#d22d1e"/><rect x="244.18" y="244.82" width="12.56" height="3.36" fill="#bc4e1b"/><rect x="244.18" y="248.13" width="12.56" height="6.67" fill="#d22d1e"/><rect x="244.18" y="254.75" width="12.56" height="16.61" fill="#55ba22"/><rect x="244.18" y="271.31" width="12.56" height="6.67" fill="#d22d1e"/><rect x="244.18" y="277.93" width="12.56" height="6.67" fill="#bc4e1b"/><rect x="244.18" y="284.55" width="12.56" height="6.67" fill="#d22d1e"/><rect x="244.18" y="291.18" width="12.56" height="3.36" fill="#bc4e1b"/><rect x="244.18" y="294.49" width="12.56" height="6.67" fill="#55ba22"/><rect x="244.18" y="301.11" width="12.56" height="3.36" fill="#bc4e1b"/><rect x="244.18" y="304.42" width="12.56" height="3.36" fill="#d22d1e"/><rect x="244.18" y="307.73" width="12.56" height="3.36" fill="#e10f28"/><rect x="244.18" y="311.04" width="12.56" height="3.36" fill="#bc4e1b"/><rect x="244.18" y="314.35" width="12.56" height="3.36" fill="#55ba22"/><rect x="244.18" y="317.67" width="12.56" height="3.36" fill="#66b026"/><rect x="244.18" y="320.98" width="12.56" height="3.36" fill="#d22d1e"/><rect x="244.18" y="324.29" width="12.56" height="3.36" fill="#bc4e1b"/><rect x="256.69" y="36.2" width="12.56" height="9.98" fill="#66b026"/><rect x="256.69" y="46.13" width="12.56" height="3.36" fill="#878c23"/><rect x="256.69" y="49.45" width="12.56" height="3.36" fill="#55ba22"/><rect x="256.69" y="52.76" width="12.56" height="3.36" fill="#66b026"/><rect x="256.69" y="56.07" width="12.56" height="3.36" fill="#55ba22"/><rect x="256.69" y="59.38" width="12.56" height="3.36" fill="#d22d1e"/><rect x="256.69" y="62.69" width="12.56" height="6.67" fill="#66b026"/><rect x="256.69" y="69.31" width="12.56" height="3.36" fill="#bc4e1b"/><rect x="256.69" y="72.62" width="12.56" height="3.36" fill="#66b026"/><rect x="256.69" y="75.94" width="12.56" height="3.36" fill="#bc4e1b"/><rect x="256.69" y="79.25" width="12.56" height="3.36" fill="#a0731e"/><rect x="256.69" y="82.56" width="12.56" height="3.36" fill="#bc4e1b"/><rect x="256.69" y="85.87" width="12.56" height="19.92" fill="#66b026"/><rect x="256.69" y="105.74" width="12.56" height="3.36" fill="#878c23"/><rect x="256.69" y="109.05" width="12.56" height="6.67" fill="#bc4e1b"/><rect x="256.69" y="115.67" width="12.56" height="3.36" fill="#66b026"/><rect x="256.69" y="118.98" width="12.56" height="3.36" fill="#bc4e1b"/><rect x="256.69" y="122.3" width="12.56" height="6.67" fill="#66b026"/><rect x="256.69" y="128.92" width="12.56" height="3.36" fill="#878c23"/><rect x="256.69" y="132.23" width="12.56" height="3.36" fill="#66b026"/><rect x="256.69" y="135.54" width="12.56" height="3.36" fill="#878c23"/><rect x="256.69" y="138.85" width="12.56" height="19.92" fill="#66b026"/><rect x="256.69" y="158.72" width="12.56" height="6.67" fill="#878c23"/><rect x="256.69" y="165.34" width="12.56" height="6.67" fill="#66b026"/><rect x="256.69" y="171.97" width="12.56" height="3.36" fill="#d22d1e"/><rect x="256.69" y="175.28" width="12.56" height="6.67" fill="#bc4e1b"/><rect x="256.69" y="181.9" width="12.56" height="6.67" fill="#66b026"/><rect x="256.69" y="188.52" width="12.56" height="3.36" fill="#55ba22"/><rect x="256.69" y="191.83" width="12.56" height="3.36" fill="#66b026"/><rect x="256.69" y="195.15" width="12.56" height="3.36" fill="#878c23"/><rect x="256.69" y="198.46" width="12.56" height="6.67" fill="#55ba22"/><rect x="256.69" y="205.08" width="12.56" height="3.36" fill="#878c23"/><rect x="256.69" y="208.39" width="12.56" height="16.61" fill="#66b026"/><rect x="256.69" y="224.95" width="12.56" height="3.36" fill="#bc4e1b"/><rect x="256.69" y="228.26" width="12.56" height="3.36" fill="#e10f28"/><rect x="256.69" y="231.57" width="12.56" height="3.36" fill="#66b026"/><rect x="256.69" y="234.88" width="12.56" height="3.36" fill="#878c23"/><rect x="256.69" y="238.19" width="12.56" height="3.36" fill="#bc4e1b"/><rect x="256.69" y="241.5" width="12.56" height="3.36" fill="#e10f28"/><rect x="256.69" y="244.82" width="12.56" height="6.67" fill="#66b026"/><rect x="256.69" y="251.44" width="12.56" height="3.36" fill="#bc4e1b"/><rect x="256.69" y="254.75" width="12.56" height="9.98" fill="#d22d1e"/><rect x="256.69" y="264.68" width="12.56" height="6.67" fill="#878c23"/><rect x="256.69" y="271.31" width="12.56" height="3.36" fill="#d22d1e"/><rect x="256.69" y="274.62" width="12.56" height="3.36" fill="#e10f28"/><rect x="256.69" y="277.93" width="12.56" height="16.61" fill="#d22d1e"/><rect x="256.69" y="294.49" width="12.56" height="3.36" fill="#66b026"/><rect x="256.69" y="297.8" width="12.56" height="3.36" fill="#e10f28"/><rect x="256.69" y="301.11" width="12.56" height="3.36" fill="#66b026"/><rect x="256.69" y="304.42" width="12.56" height="6.67" fill="#d22d1e"/><rect x="256.69" y="311.04" width="12.56" height="3.36" fill="#bc4e1b"/><rect x="256.69" y="314.35" width="12.56" height="3.36" fill="#66b026"/><rect x="256.69" y="317.67" width="12.56" height="3.36" fill="#55ba22"/><rect x="256.69" y="320.98" width="12.56" height="6.67" fill="#66b026"/><rect x="269.19" y="36.2" width="12.56" height="3.36" fill="#a0731e"/><rect x="269.19" y="39.51" width="12.56" height="6.67" fill="#878c23"/><rect x="269.19" y="46.13" width="12.56" height="16.61" fill="#55ba22"/><rect x="269.19" y="62.69" width="12.56" height="3.36" fill="#66b026"/><rect x="269.19" y="66" width="12.56" height="3.36" fill="#d22d1e"/><rect x="269.19" y="69.31" width="12.56" height="13.3" fill="#66b026"/><rect x="269.19" y="82.56" width="12.56" height="3.36" fill="#55ba22"/><rect x="269.19" y="85.87" width="12.56" height="3.36" fill="#66b026"/><rect x="269.19" y="89.18" width="12.56" height="3.36" fill="#bc4e1b"/><rect x="269.19" y="92.49" width="12.56" height="29.85" fill="#66b026"/><rect x="269.19" y="122.3" width="12.56" height="3.36" fill="#55ba22"/><rect x="269.19" y="125.61" width="12.56" height="3.36" fill="#66b026"/><rect x="269.19" y="128.92" width="12.56" height="6.67" fill="#bc4e1b"/><rect x="269.19" y="135.54" width="12.56" height="13.3" fill="#66b026"/><rect x="269.19" y="148.79" width="12.56" height="3.36" fill="#bc4e1b"/><rect x="269.19" y="152.1" width="12.56" height="3.36" fill="#878c23"/><rect x="269.19" y="155.41" width="12.56" height="6.67" fill="#66b026"/><rect x="269.19" y="162.03" width="12.56" height="3.36" fill="#878c23"/><rect x="269.19" y="165.34" width="12.56" height="6.67" fill="#66b026"/><rect x="269.19" y="171.97" width="12.56" height="3.36" fill="#878c23"/><rect x="269.19" y="175.28" width="12.56" height="3.36" fill="#55ba22"/><rect x="269.19" y="178.59" width="12.56" height="3.36" fill="#66b026"/><rect x="269.19" y="181.9" width="12.56" height="3.36" fill="#878c23"/><rect x="269.19" y="185.21" width="12.56" height="3.36" fill="#66b026"/><rect x="269.19" y="188.52" width="12.56" height="3.36" fill="#bc4e1b"/><rect x="269.19" y="191.83" width="12.56" height="3.36" fill="#878c23"/><rect x="269.19" y="195.15" width="12.56" height="3.36" fill="#66b026"/><rect x="269.19" y="198.46" width="12.56" height="6.67" fill="#d22d1e"/><rect x="269.19" y="205.08" width="12.56" height="6.67" fill="#bc4e1b"/><rect x="269.19" y="211.7" width="12.56" height="3.36" fill="#878c23"/><rect x="269.19" y="215.01" width="12.56" height="3.36" fill="#66b026"/><rect x="269.19" y="218.33" width="12.56" height="3.36" fill="#e10f28"/><rect x="269.19" y="221.64" width="12.56" height="3.36" fill="#bc4e1b"/><rect x="269.19" y="224.95" width="12.56" height="3.36" fill="#a0731e"/><rect x="269.19" y="228.26" width="12.56" height="3.36" fill="#bc4e1b"/><rect x="269.19" y="231.57" width="12.56" height="19.92" fill="#66b026"/><rect x="269.19" y="251.44" width="12.56" height="3.36" fill="#878c23"/><rect x="269.19" y="254.75" width="12.56" height="9.98" fill="#d22d1e"/><rect x="269.19" y="264.68" width="12.56" height="3.36" fill="#e10f28"/><rect x="269.19" y="268" width="12.56" height="3.36" fill="#d22d1e"/><rect x="269.19" y="271.31" width="12.56" height="29.85" fill="#e10f28"/><rect x="269.19" y="301.11" width="12.56" height="3.36" fill="#bc4e1b"/><rect x="269.19" y="304.42" width="12.56" height="3.36" fill="#d22d1e"/><rect x="269.19" y="307.73" width="12.56" height="9.98" fill="#bc4e1b"/><rect x="269.19" y="317.67" width="12.56" height="9.98" fill="#66b026"/><rect x="281.7" y="36.2" width="12.56" height="3.36" fill="#a0731e"/><rect x="281.7" y="39.51" width="12.56" height="6.67" fill="#66b026"/><rect x="281.7" y="46.13" width="12.56" height="3.36" fill="#878c23"/><rect x="281.7" y="49.45" width="12.56" height="9.98" fill="#a0731e"/><rect x="281.7" y="59.38" width="12.56" height="3.36" fill="#878c23"/><rect x="281.7" y="62.69" width="12.56" height="9.98" fill="#66b026"/><rect x="281.7" y="72.62" width="12.56" height="3.36" fill="#bc4e1b"/><rect x="281.7" y="75.94" width="12.56" height="6.67" fill="#66b026"/><rect x="281.7" y="82.56" width="12.56" height="3.36" fill="#a0731e"/><rect x="281.7" y="85.87" width="12.56" height="16.61" fill="#66b026"/><rect x="281.7" y="102.43" width="12.56" height="3.36" fill="#878c23"/><rect x="281.7" y="105.74" width="12.56" height="16.61" fill="#66b026"/><rect x="281.7" y="122.3" width="12.56" height="3.36" fill="#bc4e1b"/><rect x="281.7" y="125.61" width="12.56" height="3.36" fill="#878c23"/><rect x="281.7" y="128.92" width="12.56" height="3.36" fill="#66b026"/><rect x="281.7" y="132.23" width="12.56" height="3.36" fill="#d22d1e"/><rect x="281.7" y="135.54" width="12.56" height="3.36" fill="#878c23"/><rect x="281.7" y="138.85" width="12.56" height="3.36" fill="#66b026"/><rect x="281.7" y="142.16" width="12.56" height="6.67" fill="#878c23"/><rect x="281.7" y="148.79" width="12.56" height="9.98" fill="#66b026"/><rect x="281.7" y="158.72" width="12.56" height="6.67" fill="#878c23"/><rect x="281.7" y="165.34" width="12.56" height="6.67" fill="#66b026"/><rect x="281.7" y="171.97" width="12.56" height="3.36" fill="#878c23"/><rect x="281.7" y="175.28" width="12.56" height="3.36" fill="#bc4e1b"/><rect x="281.7" y="178.59" width="12.56" height="3.36" fill="#d22d1e"/><rect x="281.7" y="181.9" width="12.56" height="9.98" fill="#bc4e1b"/><rect x="281.7" y="191.83" width="12.56" height="3.36" fill="#878c23"/><rect x="281.7" y="195.15" width="12.56" height="3.36" fill="#e10f28"/><rect x="281.7" y="198.46" width="12.56" height="3.36" fill="#66b026"/><rect x="281.7" y="201.77" width="12.56" height="3.36" fill="#bc4e1b"/><rect x="281.7" y="205.08" width="12.56" height="3.36" fill="#878c23"/><rect x="281.7" y="208.39" width="12.56" height="6.67" fill="#bc4e1b"/><rect x="281.7" y="215.01" width="12.56" height="3.36" fill="#e10f28"/><rect x="281.7" y="218.33" width="12.56" height="6.67" fill="#66b026"/><rect x="281.7" y="224.95" width="12.56" height="3.36" fill="#878c23"/><rect x="281.7" y="228.26" width="12.56" height="3.36" fill="#bc4e1b"/><rect x="281.7" y="231.57" width="12.56" height="3.36" fill="#66b026"/><rect x="281.7" y="234.88" width="12.56" height="3.36" fill="#bc4e1b"/><rect x="281.7" y="238.19" width="12.56" height="3.36" fill="#878c23"/><rect x="281.7" y="241.5" width="12.56" height="6.67" fill="#bc4e1b"/><rect x="281.7" y="248.13" width="12.56" height="3.36" fill="#66b026"/><rect x="281.7" y="251.44" width="12.56" height="3.36" fill="#d22d1e"/><rect x="281.7" y="254.75" width="12.56" height="9.98" fill="#66b026"/><rect x="281.7" y="264.68" width="12.56" height="3.36" fill="#878c23"/><rect x="281.7" y="268" width="12.56" height="3.36" fill="#66b026"/><rect x="281.7" y="271.31" width="12.56" height="3.36" fill="#878c23"/><rect x="281.7" y="274.62" width="12.56" height="3.36" fill="#66b026"/><rect x="281.7" y="277.93" width="12.56" height="6.67" fill="#878c23"/><rect x="281.7" y="284.55" width="12.56" height="3.36" fill="#bc4e1b"/><rect x="281.7" y="287.86" width="12.56" height="3.36" fill="#878c23"/><rect x="281.7" y="291.18" width="12.56" height="3.36" fill="#bc4e1b"/><rect x="281.7" y="294.49" width="12.56" height="6.67" fill="#d22d1e"/><rect x="281.7" y="301.11" width="12.56" height="3.36" fill="#878c23"/><rect x="281.7" y="304.42" width="12.56" height="9.98" fill="#66b026"/><rect x="281.7" y="314.35" width="12.56" height="3.36" fill="#d22d1e"/><rect x="281.7" y="317.67" width="12.56" height="3.36" fill="#bc4e1b"/><rect x="281.7" y="320.98" width="12.56" height="3.36" fill="#e10f28"/><rect x="281.7" y="324.29" width="12.56" height="3.36" fill="#d22d1e"/><rect x="294.21" y="36.2" width="12.56" height="3.36" fill="#878c23"/><rect x="294.21" y="39.51" width="12.56" height="6.67" fill="#66b026"/><rect x="294.21" y="46.13" width="12.56" height="9.98" fill="#55ba22"/><rect x="294.21" y="56.07" width="12.56" height="3.36" fill="#878c23"/><rect x="294.21" y="59.38" width="12.56" height="6.67" fill="#a0731e"/><rect x="294.21" y="66" width="12.56" height="16.61" fill="#66b026"/><rect x="294.21" y="82.56" width="12.56" height="3.36" fill="#a0731e"/><rect x="294.21" y="85.87" width="12.56" height="16.61" fill="#66b026"/><rect x="294.21" y="102.43" width="12.56" height="3.36" fill="#878c23"/><rect x="294.21" y="105.74" width="12.56" height="6.67" fill="#66b026"/><rect x="294.21" y="112.36" width="12.56" height="3.36" fill="#878c23"/><rect x="294.21" y="115.67" width="12.56" height="6.67" fill="#66b026"/><rect x="294.21" y="122.3" width="12.56" height="3.36" fill="#878c23"/><rect x="294.21" y="125.61" width="12.56" height="6.67" fill="#66b026"/><rect x="294.21" y="132.23" width="12.56" height="3.36" fill="#878c23"/><rect x="294.21" y="135.54" width="12.56" height="3.36" fill="#bc4e1b"/><rect x="294.21" y="138.85" width="12.56" height="23.23" fill="#66b026"/><rect x="294.21" y="162.03" width="12.56" height="3.36" fill="#878c23"/><rect x="294.21" y="165.34" width="12.56" height="29.85" fill="#66b026"/><rect x="294.21" y="195.15" width="12.56" height="3.36" fill="#878c23"/><rect x="294.21" y="198.46" width="12.56" height="6.67" fill="#bc4e1b"/><rect x="294.21" y="205.08" width="12.56" height="3.36" fill="#66b026"/><rect x="294.21" y="208.39" width="12.56" height="19.92" fill="#bc4e1b"/><rect x="294.21" y="228.26" width="12.56" height="3.36" fill="#66b026"/><rect x="294.21" y="231.57" width="12.56" height="6.67" fill="#bc4e1b"/><rect x="294.21" y="238.19" width="12.56" height="3.36" fill="#878c23"/><rect x="294.21" y="241.5" width="12.56" height="3.36" fill="#66b026"/><rect x="294.21" y="244.82" width="12.56" height="3.36" fill="#bc4e1b"/><rect x="294.21" y="248.13" width="12.56" height="3.36" fill="#a0731e"/><rect x="294.21" y="251.44" width="12.56" height="3.36" fill="#bc4e1b"/><rect x="294.21" y="254.75" width="12.56" height="9.98" fill="#66b026"/><rect x="294.21" y="264.68" width="12.56" height="3.36" fill="#e10f28"/><rect x="294.21" y="268" width="12.56" height="3.36" fill="#d22d1e"/><rect x="294.21" y="271.31" width="12.56" height="3.36" fill="#878c23"/><rect x="294.21" y="274.62" width="12.56" height="3.36" fill="#bc4e1b"/><rect x="294.21" y="277.93" width="12.56" height="3.36" fill="#e10f28"/><rect x="294.21" y="281.24" width="12.56" height="6.67" fill="#bc4e1b"/><rect x="294.21" y="287.86" width="12.56" height="3.36" fill="#e10f28"/><rect x="294.21" y="291.18" width="12.56" height="6.67" fill="#bc4e1b"/><rect x="294.21" y="297.8" width="12.56" height="3.36" fill="#e10f28"/><rect x="294.21" y="301.11" width="12.56" height="13.3" fill="#66b026"/><rect x="294.21" y="314.35" width="12.56" height="3.36" fill="#d22d1e"/><rect x="294.21" y="317.67" width="12.56" height="3.36" fill="#bc4e1b"/><rect x="294.21" y="320.98" width="12.56" height="3.36" fill="#e10f28"/><rect x="294.21" y="324.29" width="12.56" height="3.36" fill="#bc4e1b"/><rect x="306.71" y="36.2" width="12.56" height="6.67" fill="#d22d1e"/><rect x="306.71" y="42.82" width="12.56" height="3.36" fill="#66b026"/><rect x="306.71" y="46.13" width="12.56" height="19.92" fill="#bc4e1b"/><rect x="306.71" y="66" width="12.56" height="16.61" fill="#66b026"/><rect x="306.71" y="82.56" width="12.56" height="3.36" fill="#bc4e1b"/><rect x="306.71" y="85.87" width="12.56" height="39.79" fill="#66b026"/><rect x="306.71" y="125.61" width="12.56" height="3.36" fill="#55ba22"/><rect x="306.71" y="128.92" width="12.56" height="33.16" fill="#66b026"/><rect x="306.71" y="162.03" width="12.56" height="3.36" fill="#878c23"/><rect x="306.71" y="165.34" width="12.56" height="26.54" fill="#bc4e1b"/><rect x="306.71" y="191.83" width="12.56" height="3.36" fill="#878c23"/><rect x="306.71" y="195.15" width="12.56" height="9.98" fill="#66b026"/><rect x="306.71" y="205.08" width="12.56" height="3.36" fill="#878c23"/><rect x="306.71" y="208.39" width="12.56" height="16.61" fill="#66b026"/><rect x="306.71" y="224.95" width="12.56" height="3.36" fill="#878c23"/><rect x="306.71" y="228.26" width="12.56" height="3.36" fill="#66b026"/><rect x="306.71" y="231.57" width="12.56" height="3.36" fill="#bc4e1b"/><rect x="306.71" y="234.88" width="12.56" height="9.98" fill="#66b026"/><rect x="306.71" y="244.82" width="12.56" height="3.36" fill="#a0731e"/><rect x="306.71" y="248.13" width="12.56" height="3.36" fill="#bc4e1b"/><rect x="306.71" y="251.44" width="12.56" height="3.36" fill="#878c23"/><rect x="306.71" y="254.75" width="12.56" height="26.54" fill="#66b026"/><rect x="306.71" y="281.24" width="12.56" height="3.36" fill="#878c23"/><rect x="306.71" y="284.55" width="12.56" height="6.67" fill="#66b026"/><rect x="306.71" y="291.18" width="12.56" height="3.36" fill="#878c23"/><rect x="306.71" y="294.49" width="12.56" height="19.92" fill="#66b026"/><rect x="306.71" y="314.35" width="12.56" height="3.36" fill="#e10f28"/><rect x="306.71" y="317.67" width="12.56" height="3.36" fill="#bc4e1b"/><rect x="306.71" y="320.98" width="12.56" height="6.67" fill="#66b026"/><rect x="319.22" y="36.2" width="12.56" height="3.36" fill="#878c23"/><rect x="319.22" y="39.51" width="12.56" height="9.98" fill="#66b026"/><rect x="319.22" y="49.45" width="12.56" height="6.67" fill="#55ba22"/><rect x="319.22" y="56.07" width="12.56" height="9.98" fill="#a0731e"/><rect x="319.22" y="66" width="12.56" height="29.85" fill="#66b026"/><rect x="319.22" y="95.8" width="12.56" height="3.36" fill="#878c23"/><rect x="319.22" y="99.12" width="12.56" height="3.36" fill="#66b026"/><rect x="319.22" y="102.43" width="12.56" height="3.36" fill="#d22d1e"/><rect x="319.22" y="105.74" width="12.56" height="9.98" fill="#66b026"/><rect x="319.22" y="115.67" width="12.56" height="3.36" fill="#55ba22"/><rect x="319.22" y="118.98" width="12.56" height="19.92" fill="#66b026"/><rect x="319.22" y="138.85" width="12.56" height="3.36" fill="#878c23"/><rect x="319.22" y="142.16" width="12.56" height="23.23" fill="#66b026"/><rect x="319.22" y="165.34" width="12.56" height="3.36" fill="#878c23"/><rect x="319.22" y="168.65" width="12.56" height="23.23" fill="#66b026"/><rect x="319.22" y="191.83" width="12.56" height="6.67" fill="#878c23"/><rect x="319.22" y="198.46" width="12.56" height="72.9" fill="#66b026"/><rect x="319.22" y="271.31" width="12.56" height="3.36" fill="#878c23"/><rect x="319.22" y="274.62" width="12.56" height="6.67" fill="#66b026"/><rect x="319.22" y="281.24" width="12.56" height="6.67" fill="#878c23"/><rect x="319.22" y="287.86" width="12.56" height="39.79" fill="#66b026"/><rect x="331.73" y="36.2" width="12.56" height="6.67" fill="#66b026"/><rect x="331.73" y="42.82" width="12.56" height="3.36" fill="#a0731e"/><rect x="331.73" y="46.13" width="12.56" height="3.36" fill="#bc4e1b"/><rect x="331.73" y="49.45" width="12.56" height="6.67" fill="#66b026"/><rect x="331.73" y="56.07" width="12.56" height="3.36" fill="#bc4e1b"/><rect x="331.73" y="59.38" width="12.56" height="3.36" fill="#a0731e"/><rect x="331.73" y="62.69" width="12.56" height="29.85" fill="#66b026"/><rect x="331.73" y="92.49" width="12.56" height="3.36" fill="#878c23"/><rect x="331.73" y="95.8" width="12.56" height="43.1" fill="#66b026"/><rect x="331.73" y="138.85" width="12.56" height="3.36" fill="#bc4e1b"/><rect x="331.73" y="142.16" width="12.56" height="3.36" fill="#878c23"/><rect x="331.73" y="145.48" width="12.56" height="3.36" fill="#66b026"/><rect x="331.73" y="148.79" width="12.56" height="6.67" fill="#878c23"/><rect x="331.73" y="155.41" width="12.56" height="6.67" fill="#66b026"/><rect x="331.73" y="162.03" width="12.56" height="3.36" fill="#bc4e1b"/><rect x="331.73" y="165.34" width="12.56" height="3.36" fill="#66b026"/><rect x="331.73" y="168.65" width="12.56" height="3.36" fill="#bc4e1b"/><rect x="331.73" y="171.97" width="12.56" height="19.92" fill="#66b026"/><rect x="331.73" y="191.83" width="12.56" height="6.67" fill="#bc4e1b"/><rect x="331.73" y="198.46" width="12.56" height="39.79" fill="#66b026"/><rect x="331.73" y="238.19" width="12.56" height="3.36" fill="#878c23"/><rect x="331.73" y="241.5" width="12.56" height="29.85" fill="#66b026"/><rect x="331.73" y="271.31" width="12.56" height="3.36" fill="#878c23"/><rect x="331.73" y="274.62" width="12.56" height="3.36" fill="#a0731e"/><rect x="331.73" y="277.93" width="12.56" height="19.92" fill="#66b026"/><rect x="331.73" y="297.8" width="12.56" height="3.36" fill="#bc4e1b"/><rect x="331.73" y="301.11" width="12.56" height="23.23" fill="#66b026"/><rect x="331.73" y="324.29" width="12.56" height="3.36" fill="#e10f28"/><rect x="344.24" y="36.2" width="12.56" height="16.61" fill="#66b026"/><rect x="344.24" y="52.76" width="12.56" height="3.36" fill="#878c23"/><rect x="344.24" y="56.07" width="12.56" height="6.67" fill="#66b026"/><rect x="344.24" y="62.69" width="12.56" height="3.36" fill="#878c23"/><rect x="344.24" y="66" width="12.56" height="3.36" fill="#66b026"/><rect x="344.24" y="69.31" width="12.56" height="3.36" fill="#d22d1e"/><rect x="344.24" y="72.62" width="12.56" height="3.36" fill="#66b026"/><rect x="344.24" y="75.94" width="12.56" height="3.36" fill="#55ba22"/><rect x="344.24" y="79.25" width="12.56" height="39.79" fill="#66b026"/><rect x="344.24" y="118.98" width="12.56" height="3.36" fill="#bc4e1b"/><rect x="344.24" y="122.3" width="12.56" height="3.36" fill="#a0731e"/><rect x="344.24" y="125.61" width="12.56" height="3.36" fill="#66b026"/><rect x="344.24" y="128.92" width="12.56" height="3.36" fill="#bc4e1b"/><rect x="344.24" y="132.23" width="12.56" height="3.36" fill="#878c23"/><rect x="344.24" y="135.54" width="12.56" height="13.3" fill="#66b026"/><rect x="344.24" y="148.79" width="12.56" height="6.67" fill="#bc4e1b"/><rect x="344.24" y="155.41" width="12.56" height="3.36" fill="#d22d1e"/><rect x="344.24" y="158.72" width="12.56" height="6.67" fill="#66b026"/><rect x="344.24" y="165.34" width="12.56" height="3.36" fill="#878c23"/><rect x="344.24" y="168.65" width="12.56" height="3.36" fill="#bc4e1b"/><rect x="344.24" y="171.97" width="12.56" height="9.98" fill="#66b026"/><rect x="344.24" y="181.9" width="12.56" height="3.36" fill="#bc4e1b"/><rect x="344.24" y="185.21" width="12.56" height="3.36" fill="#878c23"/><rect x="344.24" y="188.52" width="12.56" height="29.85" fill="#66b026"/><rect x="344.24" y="218.33" width="12.56" height="9.98" fill="#e10f28"/><rect x="344.24" y="228.26" width="12.56" height="23.23" fill="#66b026"/><rect x="344.24" y="251.44" width="12.56" height="3.36" fill="#e10f28"/><rect x="344.24" y="254.75" width="12.56" height="19.92" fill="#66b026"/><rect x="344.24" y="274.62" width="12.56" height="6.67" fill="#e10f28"/><rect x="344.24" y="281.24" width="12.56" height="6.67" fill="#d22d1e"/><rect x="344.24" y="287.86" width="12.56" height="3.36" fill="#e10f28"/><rect x="344.24" y="291.18" width="12.56" height="29.85" fill="#66b026"/><rect x="344.24" y="320.98" width="12.56" height="3.36" fill="#bc4e1b"/><rect x="344.24" y="324.29" width="12.56" height="3.36" fill="#66b026"/><rect x="356.74" y="36.2" width="12.56" height="6.67" fill="#66b026"/><rect x="356.74" y="42.82" width="12.56" height="6.67" fill="#bc4e1b"/><rect x="356.74" y="49.45" width="12.56" height="36.48" fill="#66b026"/><rect x="356.74" y="85.87" width="12.56" height="6.67" fill="#e10f28"/><rect x="356.74" y="92.49" width="12.56" height="6.67" fill="#d22d1e"/><rect x="356.74" y="99.12" width="12.56" height="3.36" fill="#e10f28"/><rect x="356.74" y="102.43" width="12.56" height="3.36" fill="#66b026"/><rect x="356.74" y="105.74" width="12.56" height="9.98" fill="#d22d1e"/><rect x="356.74" y="115.67" width="12.56" height="3.36" fill="#bc4e1b"/><rect x="356.74" y="118.98" width="12.56" height="6.67" fill="#66b026"/><rect x="356.74" y="125.61" width="12.56" height="3.36" fill="#878c23"/><rect x="356.74" y="128.92" width="12.56" height="3.36" fill="#bc4e1b"/><rect x="356.74" y="132.23" width="12.56" height="3.36" fill="#878c23"/><rect x="356.74" y="135.54" width="12.56" height="9.98" fill="#66b026"/><rect x="356.74" y="145.48" width="12.56" height="3.36" fill="#bc4e1b"/><rect x="356.74" y="148.79" width="12.56" height="3.36" fill="#66b026"/><rect x="356.74" y="152.1" width="12.56" height="6.67" fill="#55ba22"/><rect x="356.74" y="158.72" width="12.56" height="33.16" fill="#66b026"/><rect x="356.74" y="191.83" width="12.56" height="3.36" fill="#bc4e1b"/><rect x="356.74" y="195.15" width="12.56" height="3.36" fill="#66b026"/><rect x="356.74" y="198.46" width="12.56" height="3.36" fill="#878c23"/><rect x="356.74" y="201.77" width="12.56" height="3.36" fill="#66b026"/><rect x="356.74" y="205.08" width="12.56" height="3.36" fill="#bc4e1b"/><rect x="356.74" y="208.39" width="12.56" height="3.36" fill="#66b026"/><rect x="356.74" y="211.7" width="12.56" height="3.36" fill="#878c23"/><rect x="356.74" y="215.01" width="12.56" height="19.92" fill="#66b026"/><rect x="356.74" y="234.88" width="12.56" height="3.36" fill="#bc4e1b"/><rect x="356.74" y="238.19" width="12.56" height="3.36" fill="#66b026"/><rect x="356.74" y="241.5" width="12.56" height="3.36" fill="#878c23"/><rect x="356.74" y="244.82" width="12.56" height="46.41" fill="#66b026"/><rect x="356.74" y="291.18" width="12.56" height="3.36" fill="#e10f28"/><rect x="356.74" y="294.49" width="12.56" height="3.36" fill="#66b026"/><rect x="356.74" y="297.8" width="12.56" height="6.67" fill="#bc4e1b"/><rect x="356.74" y="304.42" width="12.56" height="3.36" fill="#878c23"/><rect x="356.74" y="307.73" width="12.56" height="3.36" fill="#66b026"/><rect x="356.74" y="311.04" width="12.56" height="3.36" fill="#bc4e1b"/><rect x="356.74" y="314.35" width="12.56" height="13.3" fill="#66b026"/><rect x="369.25" y="36.2" width="12.56" height="9.98" fill="#66b026"/><rect x="369.25" y="46.13" width="12.56" height="6.67" fill="#878c23"/><rect x="369.25" y="52.76" width="12.56" height="3.36" fill="#66b026"/><rect x="369.25" y="56.07" width="12.56" height="3.36" fill="#878c23"/><rect x="369.25" y="59.38" width="12.56" height="3.36" fill="#a0731e"/><rect x="369.25" y="62.69" width="12.56" height="3.36" fill="#878c23"/><rect x="369.25" y="66" width="12.56" height="3.36" fill="#a0731e"/><rect x="369.25" y="69.31" width="12.56" height="3.36" fill="#878c23"/><rect x="369.25" y="72.62" width="12.56" height="3.36" fill="#66b026"/><rect x="369.25" y="75.94" width="12.56" height="3.36" fill="#bc4e1b"/><rect x="369.25" y="79.25" width="12.56" height="3.36" fill="#66b026"/><rect x="369.25" y="82.56" width="12.56" height="3.36" fill="#878c23"/><rect x="369.25" y="85.87" width="12.56" height="3.36" fill="#66b026"/><rect x="369.25" y="89.18" width="12.56" height="3.36" fill="#878c23"/><rect x="369.25" y="92.49" width="12.56" height="6.67" fill="#bc4e1b"/><rect x="369.25" y="99.12" width="12.56" height="3.36" fill="#66b026"/><rect x="369.25" y="102.43" width="12.56" height="3.36" fill="#878c23"/><rect x="369.25" y="105.74" width="12.56" height="33.16" fill="#66b026"/><rect x="369.25" y="138.85" width="12.56" height="9.98" fill="#bc4e1b"/><rect x="369.25" y="148.79" width="12.56" height="9.98" fill="#66b026"/><rect x="369.25" y="158.72" width="12.56" height="3.36" fill="#bc4e1b"/><rect x="369.25" y="162.03" width="12.56" height="9.98" fill="#66b026"/><rect x="369.25" y="171.97" width="12.56" height="6.67" fill="#878c23"/><rect x="369.25" y="178.59" width="12.56" height="23.23" fill="#66b026"/><rect x="369.25" y="201.77" width="12.56" height="3.36" fill="#878c23"/><rect x="369.25" y="205.08" width="12.56" height="9.98" fill="#66b026"/><rect x="369.25" y="215.01" width="12.56" height="3.36" fill="#878c23"/><rect x="369.25" y="218.33" width="12.56" height="13.3" fill="#66b026"/><rect x="369.25" y="231.57" width="12.56" height="3.36" fill="#bc4e1b"/><rect x="369.25" y="234.88" width="12.56" height="3.36" fill="#d22d1e"/><rect x="369.25" y="238.19" width="12.56" height="3.36" fill="#66b026"/><rect x="369.25" y="241.5" width="12.56" height="3.36" fill="#bc4e1b"/><rect x="369.25" y="244.82" width="12.56" height="9.98" fill="#66b026"/><rect x="369.25" y="254.75" width="12.56" height="6.67" fill="#878c23"/><rect x="369.25" y="261.37" width="12.56" height="6.67" fill="#66b026"/><rect x="369.25" y="268" width="12.56" height="3.36" fill="#878c23"/><rect x="369.25" y="271.31" width="12.56" height="13.3" fill="#66b026"/><rect x="369.25" y="284.55" width="12.56" height="3.36" fill="#878c23"/><rect x="369.25" y="287.86" width="12.56" height="39.79" fill="#66b026"/><rect x="381.76" y="36.2" width="12.56" height="9.98" fill="#66b026"/><rect x="381.76" y="46.13" width="12.56" height="3.36" fill="#878c23"/><rect x="381.76" y="49.45" width="12.56" height="16.61" fill="#66b026"/><rect x="381.76" y="66" width="12.56" height="3.36" fill="#bc4e1b"/><rect x="381.76" y="69.31" width="12.56" height="6.67" fill="#66b026"/><rect x="381.76" y="75.94" width="12.56" height="13.3" fill="#a0731e"/><rect x="381.76" y="89.18" width="12.56" height="3.36" fill="#878c23"/><rect x="381.76" y="92.49" width="12.56" height="6.67" fill="#66b026"/><rect x="381.76" y="99.12" width="12.56" height="3.36" fill="#878c23"/><rect x="381.76" y="102.43" width="12.56" height="23.23" fill="#66b026"/><rect x="381.76" y="125.61" width="12.56" height="3.36" fill="#bc4e1b"/><rect x="381.76" y="128.92" width="12.56" height="9.98" fill="#a0731e"/><rect x="381.76" y="138.85" width="12.56" height="3.36" fill="#878c23"/><rect x="381.76" y="142.16" width="12.56" height="3.36" fill="#66b026"/><rect x="381.76" y="145.48" width="12.56" height="3.36" fill="#bc4e1b"/><rect x="381.76" y="148.79" width="12.56" height="16.61" fill="#66b026"/><rect x="381.76" y="165.34" width="12.56" height="3.36" fill="#bc4e1b"/><rect x="381.76" y="168.65" width="12.56" height="36.48" fill="#66b026"/><rect x="381.76" y="205.08" width="12.56" height="3.36" fill="#878c23"/><rect x="381.76" y="208.39" width="12.56" height="3.36" fill="#d22d1e"/><rect x="381.76" y="211.7" width="12.56" height="3.36" fill="#bc4e1b"/><rect x="381.76" y="215.01" width="12.56" height="3.36" fill="#878c23"/><rect x="381.76" y="218.33" width="12.56" height="3.36" fill="#66b026"/><rect x="381.76" y="221.64" width="12.56" height="3.36" fill="#878c23"/><rect x="381.76" y="224.95" width="12.56" height="3.36" fill="#66b026"/><rect x="381.76" y="228.26" width="12.56" height="3.36" fill="#e10f28"/><rect x="381.76" y="231.57" width="12.56" height="3.36" fill="#a0731e"/><rect x="381.76" y="234.88" width="12.56" height="19.92" fill="#66b026"/><rect x="381.76" y="254.75" width="12.56" height="9.98" fill="#e10f28"/><rect x="381.76" y="264.68" width="12.56" height="3.36" fill="#66b026"/><rect x="381.76" y="268" width="12.56" height="3.36" fill="#e10f28"/><rect x="381.76" y="271.31" width="12.56" height="9.98" fill="#66b026"/><rect x="381.76" y="281.24" width="12.56" height="6.67" fill="#d22d1e"/><rect x="381.76" y="287.86" width="12.56" height="3.36" fill="#66b026"/><rect x="381.76" y="291.18" width="12.56" height="3.36" fill="#e10f28"/><rect x="381.76" y="294.49" width="12.56" height="3.36" fill="#66b026"/><rect x="381.76" y="297.8" width="12.56" height="3.36" fill="#d22d1e"/><rect x="381.76" y="301.11" width="12.56" height="6.67" fill="#bc4e1b"/><rect x="381.76" y="307.73" width="12.56" height="3.36" fill="#66b026"/><rect x="381.76" y="311.04" width="12.56" height="9.98" fill="#bc4e1b"/><rect x="381.76" y="320.98" width="12.56" height="3.36" fill="#d22d1e"/><rect x="381.76" y="324.29" width="12.56" height="3.36" fill="#66b026"/><rect x="394.26" y="36.2" width="12.56" height="19.92" fill="#66b026"/><rect x="394.26" y="56.07" width="12.56" height="6.67" fill="#878c23"/><rect x="394.26" y="62.69" width="12.56" height="3.36" fill="#66b026"/><rect x="394.26" y="66" width="12.56" height="3.36" fill="#bc4e1b"/><rect x="394.26" y="69.31" width="12.56" height="33.16" fill="#66b026"/><rect x="394.26" y="102.43" width="12.56" height="3.36" fill="#878c23"/><rect x="394.26" y="105.74" width="12.56" height="19.92" fill="#66b026"/><rect x="394.26" y="125.61" width="12.56" height="6.67" fill="#878c23"/><rect x="394.26" y="132.23" width="12.56" height="23.23" fill="#66b026"/><rect x="394.26" y="155.41" width="12.56" height="3.36" fill="#bc4e1b"/><rect x="394.26" y="158.72" width="12.56" height="3.36" fill="#66b026"/><rect x="394.26" y="162.03" width="12.56" height="3.36" fill="#55ba22"/><rect x="394.26" y="165.34" width="12.56" height="3.36" fill="#66b026"/><rect x="394.26" y="168.65" width="12.56" height="3.36" fill="#878c23"/><rect x="394.26" y="171.97" width="12.56" height="23.23" fill="#66b026"/><rect x="394.26" y="195.15" width="12.56" height="3.36" fill="#d22d1e"/><rect x="394.26" y="198.46" width="12.56" height="3.36" fill="#e10f28"/><rect x="394.26" y="201.77" width="12.56" height="6.67" fill="#bc4e1b"/><rect x="394.26" y="208.39" width="12.56" height="23.23" fill="#66b026"/><rect x="394.26" y="231.57" width="12.56" height="3.36" fill="#e10f28"/><rect x="394.26" y="234.88" width="12.56" height="3.36" fill="#d22d1e"/><rect x="394.26" y="238.19" width="12.56" height="6.67" fill="#bc4e1b"/><rect x="394.26" y="244.82" width="12.56" height="3.36" fill="#e10f28"/><rect x="394.26" y="248.13" width="12.56" height="6.67" fill="#66b026"/><rect x="394.26" y="254.75" width="12.56" height="9.98" fill="#bc4e1b"/><rect x="394.26" y="264.68" width="12.56" height="16.61" fill="#66b026"/><rect x="394.26" y="281.24" width="12.56" height="6.67" fill="#bc4e1b"/><rect x="394.26" y="287.86" width="12.56" height="9.98" fill="#66b026"/><rect x="394.26" y="297.8" width="12.56" height="3.36" fill="#55ba22"/><rect x="394.26" y="301.11" width="12.56" height="3.36" fill="#66b026"/><rect x="394.26" y="304.42" width="12.56" height="3.36" fill="#878c23"/><rect x="394.26" y="307.73" width="12.56" height="3.36" fill="#66b026"/><rect x="394.26" y="311.04" width="12.56" height="3.36" fill="#bc4e1b"/><rect x="394.26" y="314.35" width="12.56" height="6.67" fill="#e10f28"/><rect x="394.26" y="320.98" width="12.56" height="3.36" fill="#bc4e1b"/><rect x="394.26" y="324.29" width="12.56" height="3.36" fill="#d22d1e"/><rect x="406.77" y="36.2" width="12.56" height="6.67" fill="#e10f28"/><rect x="406.77" y="42.82" width="12.56" height="3.36" fill="#66b026"/><rect x="406.77" y="46.13" width="12.56" height="3.36" fill="#878c23"/><rect x="406.77" y="49.45" width="12.56" height="33.16" fill="#66b026"/><rect x="406.77" y="82.56" width="12.56" height="3.36" fill="#bc4e1b"/><rect x="406.77" y="85.87" width="12.56" height="6.67" fill="#66b026"/><rect x="406.77" y="92.49" width="12.56" height="6.67" fill="#878c23"/><rect x="406.77" y="99.12" width="12.56" height="3.36" fill="#a0731e"/><rect x="406.77" y="102.43" width="12.56" height="3.36" fill="#878c23"/><rect x="406.77" y="105.74" width="12.56" height="19.92" fill="#66b026"/><rect x="406.77" y="125.61" width="12.56" height="3.36" fill="#878c23"/><rect x="406.77" y="128.92" width="12.56" height="3.36" fill="#66b026"/><rect x="406.77" y="132.23" width="12.56" height="3.36" fill="#bc4e1b"/><rect x="406.77" y="135.54" width="12.56" height="13.3" fill="#66b026"/><rect x="406.77" y="148.79" width="12.56" height="3.36" fill="#bc4e1b"/><rect x="406.77" y="152.1" width="12.56" height="16.61" fill="#66b026"/><rect x="406.77" y="168.65" width="12.56" height="3.36" fill="#878c23"/><rect x="406.77" y="171.97" width="12.56" height="3.36" fill="#bc4e1b"/><rect x="406.77" y="175.28" width="12.56" height="9.98" fill="#66b026"/><rect x="406.77" y="185.21" width="12.56" height="3.36" fill="#bc4e1b"/><rect x="406.77" y="188.52" width="12.56" height="9.98" fill="#66b026"/><rect x="406.77" y="198.46" width="12.56" height="3.36" fill="#bc4e1b"/><rect x="406.77" y="201.77" width="12.56" height="13.3" fill="#66b026"/><rect x="406.77" y="215.01" width="12.56" height="3.36" fill="#878c23"/><rect x="406.77" y="218.33" width="12.56" height="9.98" fill="#66b026"/><rect x="406.77" y="228.26" width="12.56" height="3.36" fill="#878c23"/><rect x="406.77" y="231.57" width="12.56" height="3.36" fill="#66b026"/><rect x="406.77" y="234.88" width="12.56" height="3.36" fill="#bc4e1b"/><rect x="406.77" y="238.19" width="12.56" height="16.61" fill="#66b026"/><rect x="406.77" y="254.75" width="12.56" height="9.98" fill="#e10f28"/><rect x="406.77" y="264.68" width="12.56" height="3.36" fill="#bc4e1b"/><rect x="406.77" y="268" width="12.56" height="6.67" fill="#66b026"/><rect x="406.77" y="274.62" width="12.56" height="3.36" fill="#bc4e1b"/><rect x="406.77" y="277.93" width="12.56" height="3.36" fill="#d22d1e"/><rect x="406.77" y="281.24" width="12.56" height="9.98" fill="#66b026"/><rect x="406.77" y="291.18" width="12.56" height="9.98" fill="#e10f28"/><rect x="406.77" y="301.11" width="12.56" height="3.36" fill="#d22d1e"/><rect x="406.77" y="304.42" width="12.56" height="13.3" fill="#55ba22"/><rect x="406.77" y="317.67" width="12.56" height="3.36" fill="#66b026"/><rect x="406.77" y="320.98" width="12.56" height="3.36" fill="#e10f28"/><rect x="406.77" y="324.29" width="12.56" height="3.36" fill="#bc4e1b"/><rect x="419.28" y="36.2" width="12.56" height="9.98" fill="#66b026"/><rect x="419.28" y="46.13" width="12.56" height="9.98" fill="#878c23"/><rect x="419.28" y="56.07" width="12.56" height="3.36" fill="#66b026"/><rect x="419.28" y="59.38" width="12.56" height="6.67" fill="#878c23"/><rect x="419.28" y="66" width="12.56" height="3.36" fill="#bc4e1b"/><rect x="419.28" y="69.31" width="12.56" height="6.67" fill="#66b026"/><rect x="419.28" y="75.94" width="12.56" height="3.36" fill="#878c23"/><rect x="419.28" y="79.25" width="12.56" height="3.36" fill="#a0731e"/><rect x="419.28" y="82.56" width="12.56" height="6.67" fill="#66b026"/><rect x="419.28" y="89.18" width="12.56" height="9.98" fill="#878c23"/><rect x="419.28" y="99.12" width="12.56" height="3.36" fill="#66b026"/><rect x="419.28" y="102.43" width="12.56" height="3.36" fill="#a0731e"/><rect x="419.28" y="105.74" width="12.56" height="6.67" fill="#66b026"/><rect x="419.28" y="112.36" width="12.56" height="6.67" fill="#a0731e"/><rect x="419.28" y="118.98" width="12.56" height="3.36" fill="#878c23"/><rect x="419.28" y="122.3" width="12.56" height="3.36" fill="#66b026"/><rect x="419.28" y="125.61" width="12.56" height="13.3" fill="#878c23"/><rect x="419.28" y="138.85" width="12.56" height="3.36" fill="#66b026"/><rect x="419.28" y="142.16" width="12.56" height="3.36" fill="#878c23"/><rect x="419.28" y="145.48" width="12.56" height="6.67" fill="#66b026"/><rect x="419.28" y="152.1" width="12.56" height="3.36" fill="#878c23"/><rect x="419.28" y="155.41" width="12.56" height="3.36" fill="#d22d1e"/><rect x="419.28" y="158.72" width="12.56" height="6.67" fill="#878c23"/><rect x="419.28" y="165.34" width="12.56" height="3.36" fill="#66b026"/><rect x="419.28" y="168.65" width="12.56" height="3.36" fill="#878c23"/><rect x="419.28" y="171.97" width="12.56" height="6.67" fill="#d22d1e"/><rect x="419.28" y="178.59" width="12.56" height="3.36" fill="#bc4e1b"/><rect x="419.28" y="181.9" width="12.56" height="9.98" fill="#66b026"/><rect x="419.28" y="191.83" width="12.56" height="3.36" fill="#bc4e1b"/><rect x="419.28" y="195.15" width="12.56" height="3.36" fill="#878c23"/><rect x="419.28" y="198.46" width="12.56" height="9.98" fill="#66b026"/><rect x="419.28" y="208.39" width="12.56" height="9.98" fill="#878c23"/><rect x="419.28" y="218.33" width="12.56" height="9.98" fill="#66b026"/><rect x="419.28" y="228.26" width="12.56" height="3.36" fill="#878c23"/><rect x="419.28" y="231.57" width="12.56" height="6.67" fill="#66b026"/><rect x="419.28" y="238.19" width="12.56" height="3.36" fill="#878c23"/><rect x="419.28" y="241.5" width="12.56" height="3.36" fill="#66b026"/><rect x="419.28" y="244.82" width="12.56" height="3.36" fill="#a0731e"/><rect x="419.28" y="248.13" width="12.56" height="3.36" fill="#878c23"/><rect x="419.28" y="251.44" width="12.56" height="3.36" fill="#66b026"/><rect x="419.28" y="254.75" width="12.56" height="3.36" fill="#bc4e1b"/><rect x="419.28" y="258.06" width="12.56" height="6.67" fill="#d22d1e"/><rect x="419.28" y="264.68" width="12.56" height="3.36" fill="#bc4e1b"/><rect x="419.28" y="268" width="12.56" height="3.36" fill="#a0731e"/><rect x="419.28" y="271.31" width="12.56" height="3.36" fill="#bc4e1b"/><rect x="419.28" y="274.62" width="12.56" height="6.67" fill="#a0731e"/><rect x="419.28" y="281.24" width="12.56" height="9.98" fill="#878c23"/><rect x="419.28" y="291.18" width="12.56" height="6.67" fill="#e10f28"/><rect x="419.28" y="297.8" width="12.56" height="3.36" fill="#d22d1e"/><rect x="419.28" y="301.11" width="12.56" height="16.61" fill="#bc4e1b"/><rect x="419.28" y="317.67" width="12.56" height="3.36" fill="#d22d1e"/><rect x="419.28" y="320.98" width="12.56" height="3.36" fill="#e10f28"/><rect x="419.28" y="324.29" width="12.56" height="3.36" fill="#bc4e1b"/><rect x="431.79" y="36.2" width="12.56" height="9.98" fill="#e10f28"/><rect x="431.79" y="46.13" width="12.56" height="3.36" fill="#d22d1e"/><rect x="431.79" y="49.45" width="12.56" height="3.36" fill="#bc4e1b"/><rect x="431.79" y="52.76" width="12.56" height="3.36" fill="#d22d1e"/><rect x="431.79" y="56.07" width="12.56" height="3.36" fill="#e10f28"/><rect x="431.79" y="59.38" width="12.56" height="3.36" fill="#d22d1e"/><rect x="431.79" y="62.69" width="12.56" height="19.92" fill="#e10f28"/><rect x="431.79" y="82.56" width="12.56" height="3.36" fill="#878c23"/><rect x="431.79" y="85.87" width="12.56" height="3.36" fill="#a0731e"/><rect x="431.79" y="89.18" width="12.56" height="9.98" fill="#66b026"/><rect x="431.79" y="99.12" width="12.56" height="3.36" fill="#bc4e1b"/><rect x="431.79" y="102.43" width="12.56" height="3.36" fill="#66b026"/><rect x="431.79" y="105.74" width="12.56" height="6.67" fill="#bc4e1b"/><rect x="431.79" y="112.36" width="12.56" height="3.36" fill="#66b026"/><rect x="431.79" y="115.67" width="12.56" height="6.67" fill="#e10f28"/><rect x="431.79" y="122.3" width="12.56" height="23.23" fill="#66b026"/><rect x="431.79" y="145.48" width="12.56" height="3.36" fill="#a0731e"/><rect x="431.79" y="148.79" width="12.56" height="3.36" fill="#66b026"/><rect x="431.79" y="152.1" width="12.56" height="3.36" fill="#878c23"/><rect x="431.79" y="155.41" width="12.56" height="16.61" fill="#66b026"/><rect x="431.79" y="171.97" width="12.56" height="6.67" fill="#e10f28"/><rect x="431.79" y="178.59" width="12.56" height="3.36" fill="#bc4e1b"/><rect x="431.79" y="181.9" width="12.56" height="3.36" fill="#a0731e"/><rect x="431.79" y="185.21" width="12.56" height="3.36" fill="#66b026"/><rect x="431.79" y="188.52" width="12.56" height="3.36" fill="#e10f28"/><rect x="431.79" y="191.83" width="12.56" height="3.36" fill="#d22d1e"/><rect x="431.79" y="195.15" width="12.56" height="9.98" fill="#e10f28"/><rect x="431.79" y="205.08" width="12.56" height="3.36" fill="#d22d1e"/><rect x="431.79" y="208.39" width="12.56" height="3.36" fill="#bc4e1b"/><rect x="431.79" y="211.7" width="12.56" height="3.36" fill="#55ba22"/><rect x="431.79" y="215.01" width="12.56" height="3.36" fill="#bc4e1b"/><rect x="431.79" y="218.33" width="12.56" height="3.36" fill="#d22d1e"/><rect x="431.79" y="221.64" width="12.56" height="3.36" fill="#bc4e1b"/><rect x="431.79" y="224.95" width="12.56" height="3.36" fill="#e10f28"/><rect x="431.79" y="228.26" width="12.56" height="3.36" fill="#bc4e1b"/><rect x="431.79" y="231.57" width="12.56" height="3.36" fill="#66b026"/><rect x="431.79" y="234.88" width="12.56" height="6.67" fill="#bc4e1b"/><rect x="431.79" y="241.5" width="12.56" height="3.36" fill="#e10f28"/><rect x="431.79" y="244.82" width="12.56" height="3.36" fill="#bc4e1b"/><rect x="431.79" y="248.13" width="12.56" height="79.52" fill="#66b026"/><rect x="444.29" y="36.2" width="12.56" height="9.98" fill="#66b026"/><rect x="444.29" y="46.13" width="12.56" height="3.36" fill="#878c23"/><rect x="444.29" y="49.45" width="12.56" height="3.36" fill="#a0731e"/><rect x="444.29" y="52.76" width="12.56" height="3.36" fill="#878c23"/><rect x="444.29" y="56.07" width="12.56" height="16.61" fill="#66b026"/><rect x="444.29" y="72.62" width="12.56" height="6.67" fill="#878c23"/><rect x="444.29" y="79.25" width="12.56" height="3.36" fill="#a0731e"/><rect x="444.29" y="82.56" width="12.56" height="6.67" fill="#878c23"/><rect x="444.29" y="89.18" width="12.56" height="33.16" fill="#66b026"/><rect x="444.29" y="122.3" width="12.56" height="3.36" fill="#bc4e1b"/><rect x="444.29" y="125.61" width="12.56" height="3.36" fill="#66b026"/><rect x="444.29" y="128.92" width="12.56" height="3.36" fill="#bc4e1b"/><rect x="444.29" y="132.23" width="12.56" height="6.67" fill="#66b026"/><rect x="444.29" y="138.85" width="12.56" height="3.36" fill="#878c23"/><rect x="444.29" y="142.16" width="12.56" height="6.67" fill="#a0731e"/><rect x="444.29" y="148.79" width="12.56" height="23.23" fill="#66b026"/><rect x="444.29" y="171.97" width="12.56" height="3.36" fill="#d22d1e"/><rect x="444.29" y="175.28" width="12.56" height="6.67" fill="#bc4e1b"/><rect x="444.29" y="181.9" width="12.56" height="9.98" fill="#a0731e"/><rect x="444.29" y="191.83" width="12.56" height="3.36" fill="#66b026"/><rect x="444.29" y="195.15" width="12.56" height="3.36" fill="#878c23"/><rect x="444.29" y="198.46" width="12.56" height="6.67" fill="#bc4e1b"/><rect x="444.29" y="205.08" width="12.56" height="3.36" fill="#a0731e"/><rect x="444.29" y="208.39" width="12.56" height="9.98" fill="#e10f28"/><rect x="444.29" y="218.33" width="12.56" height="3.36" fill="#d22d1e"/><rect x="444.29" y="221.64" width="12.56" height="3.36" fill="#bc4e1b"/><rect x="444.29" y="224.95" width="12.56" height="3.36" fill="#878c23"/><rect x="444.29" y="228.26" width="12.56" height="3.36" fill="#bc4e1b"/><rect x="444.29" y="231.57" width="12.56" height="9.98" fill="#66b026"/><rect x="444.29" y="241.5" width="12.56" height="3.36" fill="#878c23"/><rect x="444.29" y="244.82" width="12.56" height="3.36" fill="#bc4e1b"/><rect x="444.29" y="248.13" width="12.56" height="16.61" fill="#66b026"/><rect x="444.29" y="264.68" width="12.56" height="3.36" fill="#d22d1e"/><rect x="444.29" y="268" width="12.56" height="3.36" fill="#878c23"/><rect x="444.29" y="271.31" width="12.56" height="3.36" fill="#a0731e"/><rect x="444.29" y="274.62" width="12.56" height="26.54" fill="#66b026"/><rect x="444.29" y="301.11" width="12.56" height="6.67" fill="#e10f28"/><rect x="444.29" y="307.73" width="12.56" height="9.98" fill="#bc4e1b"/><rect x="444.29" y="317.67" width="12.56" height="9.98" fill="#66b026"/></g>
<g stroke="#fffbee" stroke-width="1.0" opacity="0.9"><line x1="130.9" y1="36.2" x2="130.9" y2="327.6"/><line x1="168.6" y1="36.2" x2="168.6" y2="327.6"/><line x1="194.2" y1="36.2" x2="194.2" y2="327.6"/><line x1="219.2" y1="36.2" x2="219.2" y2="327.6"/><line x1="256.7" y1="36.2" x2="256.7" y2="327.6"/><line x1="281.9" y1="36.2" x2="281.9" y2="327.6"/><line x1="306.9" y1="36.2" x2="306.9" y2="327.6"/><line x1="344.3" y1="36.2" x2="344.3" y2="327.6"/><line x1="369.7" y1="36.2" x2="369.7" y2="327.6"/><line x1="394.6" y1="36.2" x2="394.6" y2="327.6"/><line x1="432.3" y1="36.2" x2="432.3" y2="327.6"/><line x1="106.6" y1="73.3" x2="456.8" y2="73.3"/><line x1="106.6" y1="107.1" x2="456.8" y2="107.1"/><line x1="106.6" y1="145" x2="456.8" y2="145"/><line x1="106.6" y1="182.1" x2="456.8" y2="182.1"/><line x1="106.6" y1="219.1" x2="456.8" y2="219.1"/><line x1="106.6" y1="253.3" x2="456.8" y2="253.3"/><line x1="106.6" y1="290.8" x2="456.8" y2="290.8"/></g></g>
<path d="M112.85 36.2L112.85 12M125.36 36.2L125.36 9.8M137.87 36.2L137.87 10M150.38 36.2L150.38 17.3M162.88 36.2L162.88 17.3M175.39 36.2L175.39 17.3M187.9 36.2L187.9 17.3M200.4 36.2L200.4 16.3M212.91 36.2L212.91 16.3M225.42 36.2L225.42 12M237.93 36.2L237.93 11.3M250.43 36.2L250.43 11.3M262.94 36.2L262.94 9.1M275.45 36.2L275.45 9.1M287.95 36.2L287.95 12.5M300.46 36.2L300.46 12.5M312.97 36.2L312.97 12.5M325.48 36.2L325.48 18.3M337.98 36.2L337.98 18.3M350.49 36.2L350.49 9.6M363 36.2L363 11.3M375.5 36.2L375.5 11.3M388.01 36.2L388.01 10.4M400.52 36.2L400.52 10.4M413.02 36.2L413.02 8.2M425.53 36.2L425.53 8.2M438.04 36.2L438.04 8.2M450.55 36.2L450.55 8.2M112.85 12L118.5 12M118.5 9.8L187.3 9.8M150.38 17.3L162.88 17.3M175.39 17.3L187.9 17.3M200.4 16.3L212.91 16.3M181.5 15L206.5 15M156.5 13.8L194 13.8M187 12L225.42 12M237.93 11.3L250.43 11.3M181.5 8.5L244.4 8.5M262.94 9.1L275.45 9.1M181.5 6.1L444.6 6.1M287.95 12.5L300.46 12.5M312.97 12.5L331.5 12.5M325.48 18.3L337.98 18.3M294 9.1L325.3 9.1M332.5 8L394.8 8M350.49 9.6L369.5 9.6M363 11.3L375.5 11.3M388.01 10.4L400.52 10.4M413.02 8.2L425.53 8.2M438.04 8.2L450.55 8.2M118.5 12L118.5 9.8M156.5 17.3L156.5 13.8M181.5 17.3L181.5 15M206.5 16.3L206.5 15M194 15L194 13.8M187.3 13.8L187.3 9.8M181.5 9.8L181.5 6.1M244.4 11.3L244.4 8.5M269 9.1L269 6.1M294 12.5L294 9.1M331.5 18.3L331.5 12.5M325.3 12.5L325.3 9.1M310 9.1L310 6.1M369.5 11.3L369.5 9.6M360 9.6L360 8M394.5 10.4L394.5 8M370 8L370 6.1M419 8.2L419 6.1M444.5 8.2L444.5 6.1M281.5 6.1L281.5 1.9" stroke="#7d8bab" stroke-width="0.95" fill="none" filter="url(#bl2)"/>
<g filter="url(#bl2)"><path d="M48.6 37.7L106.6 37.7M48.6 41.3L106.6 41.3M48.6 37.7L48.6 41.3M28.3 39.5L48.6 39.5M28.3 44.8L106.6 44.8M28.3 39.5L28.3 44.8M74.3 51.4L106.6 51.4M74.3 54.7L106.6 54.7M74.3 51.4L74.3 54.7M40 53.05L74.3 53.05M40 58.1L106.6 58.1M40 53.05L40 58.1M35.1 55.58L40 55.58M35.1 61.45L106.6 61.45M35.1 55.58L35.1 61.45M28.3 48.2L106.6 48.2M28.3 58.51L35.1 58.51M28.3 48.2L28.3 58.51M25.2 42.15L28.3 42.15M25.2 53.36L28.3 53.36M25.2 42.15L25.2 53.36M36.3 64.6L106.6 64.6M36.3 68.1L106.6 68.1M36.3 64.6L36.3 68.1M31.4 66.35L36.3 66.35M31.4 71.4L106.6 71.4M31.4 66.35L31.4 71.4M36.6 75.1L106.6 75.1M36.6 78.4L106.6 78.4M36.6 75.1L36.6 78.4M34.5 76.75L36.6 76.75M34.5 81.8L106.6 81.8M34.5 76.75L34.5 81.8M26.5 68.88L31.4 68.88M26.5 79.28L34.5 79.28M26.5 68.88L26.5 79.28M23.3 47.75L25.2 47.75M23.3 74.08L26.5 74.08M23.3 47.75L23.3 74.08M22.8 60.91L23.3 60.91M22.8 85.1L106.6 85.1M22.8 60.91L22.8 85.1M45.2 88.45L106.6 88.45M45.2 91.9L106.6 91.9M45.2 88.45L45.2 91.9M60.7 95.3L106.6 95.3M60.7 98.8L106.6 98.8M60.7 95.3L60.7 98.8M42.3 90.18L45.2 90.18M42.3 97.05L60.7 97.05M42.3 90.18L42.3 97.05M38.6 93.61L42.3 93.61M38.6 102.3L106.6 102.3M38.6 93.61L38.6 102.3M35.9 97.96L38.6 97.96M35.9 105.4L106.6 105.4M35.9 97.96L35.9 105.4M50.5 112.4L106.6 112.4M50.5 115.75L106.6 115.75M50.5 112.4L50.5 115.75M44.4 108.9L106.6 108.9M44.4 114.08L50.5 114.08M44.4 108.9L44.4 114.08M39.7 111.49L44.4 111.49M39.7 119.3L106.6 119.3M39.7 111.49L39.7 119.3M33.5 101.68L35.9 101.68M33.5 115.39L39.7 115.39M33.5 101.68L33.5 115.39M40.3 122.7L106.6 122.7M40.3 125.8L106.6 125.8M40.3 122.7L40.3 125.8M35.7 124.25L40.3 124.25M35.7 129.3L106.6 129.3M35.7 124.25L35.7 129.3M42.8 132.6L106.6 132.6M42.8 135.9L106.6 135.9M42.8 132.6L42.8 135.9M35.7 126.78L35.7 126.78M35.7 134.25L42.8 134.25M35.7 126.78L35.7 134.25M31.4 108.54L33.5 108.54M31.4 130.51L35.7 130.51M31.4 108.54L31.4 130.51M20.3 73.01L22.8 73.01M20.3 119.52L31.4 119.52M29.5 139.6L106.6 139.6M29.5 142.7L106.6 142.7M29.5 139.6L29.5 142.7M36.9 149.9L106.6 149.9M36.9 153.3L106.6 153.3M36.9 149.9L36.9 153.3M30.2 146.6L106.6 146.6M30.2 151.6L36.9 151.6M30.2 146.6L30.2 151.6M25.5 149.1L30.2 149.1M25.5 156.8L106.6 156.8M25.5 149.1L25.5 156.8M24.6 141.15L29.5 141.15M24.6 152.95L25.5 152.95M24.6 141.15L24.6 152.95M29.5 163.15L106.6 163.15M29.5 166.35L106.6 166.35M29.5 163.15L29.5 166.35M28.9 160L106.6 160M28.9 164.75L29.5 164.75M28.9 160L28.9 164.75M41 173.2L106.6 173.2M41 176.4L106.6 176.4M41 173.2L41 176.4M33 174.8L41 174.8M33 180L106.6 180M33 174.8L33 180M30.2 169.5L106.6 169.5M30.2 177.4L33 177.4M30.2 169.5L30.2 177.4M23.4 162.38L28.9 162.38M23.4 173.45L30.2 173.45M23.4 162.38L23.4 173.45M22.2 147.05L24.6 147.05M22.2 167.91L23.4 167.91M22.2 147.05L22.2 167.91M19 96.27L20.3 96.27M19 157.48L22.2 157.48M27.1 184.1L106.6 184.1M27.1 187.4L106.6 187.4M27.1 184.1L27.1 187.4M26.5 185.75L27.1 185.75M26.5 190.7L106.6 190.7M26.5 185.75L26.5 190.7M27.7 194.2L106.6 194.2M27.7 197.5L106.6 197.5M27.7 194.2L27.7 197.5M34 200.8L106.6 200.8M34 204.1L106.6 204.1M34 200.8L34 204.1M32 202.45L34 202.45M32 207.5L106.6 207.5M32 202.45L32 207.5M27.7 195.85L27.7 195.85M27.7 204.97L32 204.97M27.7 195.85L27.7 204.97M28.9 210.7L106.6 210.7M28.9 214.15L106.6 214.15M28.9 210.7L28.9 214.15M26 200.41L27.7 200.41M26 212.43L28.9 212.43M26 200.41L26 212.43M62.5 221.7L106.6 221.7M62.5 224.8L106.6 224.8M62.5 221.7L62.5 224.8M36.9 223.25L62.5 223.25M36.9 228.3L106.6 228.3M36.9 223.25L36.9 228.3M33 217.45L106.6 217.45M33 225.78L36.9 225.78M33 217.45L33 225.78M25.8 221.61L33 221.61M25.8 231.4L106.6 231.4M25.8 221.61L25.8 231.4M22.2 206.42L26 206.42M22.2 226.51L25.8 226.51M22.2 206.42L22.2 226.51M19.7 188.22L26.5 188.22M19.7 216.46L22.2 216.46M28.3 234.8L106.6 234.8M28.3 238.05L106.6 238.05M28.3 234.8L28.3 238.05M27.7 236.43L28.3 236.43M27.7 241.35L106.6 241.35M27.7 236.43L27.7 241.35M27.7 238.89L27.7 238.89M27.7 244.9L106.6 244.9M27.7 238.89L27.7 244.9M20.9 241.89L27.7 241.89M20.9 248.3L106.6 248.3M18.5 202.34L19.7 202.34M18.5 245.1L20.9 245.1M17 126.87L19 126.87M17 223.72L18.5 223.72M16 175.3L17 175.3M16 251.6L106.6 251.6M54.2 258.6L106.6 258.6M54.2 262.1L106.6 262.1M54.2 258.6L54.2 262.1M35.7 255.15L106.6 255.15M35.7 260.35L54.2 260.35M35.7 255.15L35.7 260.35M27.1 257.75L35.7 257.75M27.1 265.4L106.6 265.4M27.1 257.75L27.1 265.4M27.7 272.2L106.6 272.2M27.7 275.5L106.6 275.5M27.7 272.2L27.7 275.5M27.1 268.7L106.6 268.7M27.1 273.85L27.7 273.85M27.1 268.7L27.1 273.85M43 282.15L106.6 282.15M43 285.7L106.6 285.7M43 282.15L43 285.7M40.6 283.92L43 283.92M40.6 288.8L106.6 288.8M40.6 283.92L40.6 288.8M37.5 278.55L106.6 278.55M37.5 286.36L40.6 286.36M37.5 278.55L37.5 286.36M33.2 296.2L106.6 296.2M33.2 299.45L106.6 299.45M33.2 296.2L33.2 299.45M32.6 292.7L106.6 292.7M32.6 297.82L33.2 297.82M32.6 292.7L32.6 297.82M30 282.46L37.5 282.46M30 295.26L32.6 295.26M30 282.46L30 295.26M25.5 271.27L27.1 271.27M25.5 288.86L30 288.86M25.5 271.27L25.5 288.86M22.8 261.57L27.1 261.57M22.8 280.07L25.5 280.07M22.8 261.57L22.8 280.07M22.8 270.82L22.8 270.82M22.8 302.65L106.6 302.65M22.8 270.82L22.8 302.65M46.6 306.15L106.6 306.15M46.6 309.4L106.6 309.4M46.6 306.15L46.6 309.4M32.6 307.77L46.6 307.77M32.6 312.7L106.6 312.7M32.6 307.77L32.6 312.7M38.8 316.2L106.6 316.2M38.8 319.5L106.6 319.5M38.8 316.2L38.8 319.5M25 310.24L32.6 310.24M25 317.85L38.8 317.85M25 310.24L25 317.85M20.5 286.74L22.8 286.74M20.5 314.04L25 314.04M21.5 322.7L106.6 322.7M21.5 326L106.6 326M21.5 322.7L21.5 326M17.8 300.39L20.5 300.39M17.8 324.35L21.5 324.35M13.1 213.45L16 213.45M13.1 312.37L17.8 312.37" stroke="#8a97b8" stroke-width="1" fill="none"/>
<path d="M20.3 73.01L20.3 119.52M19 96.27L19 157.48M19.7 188.22L19.7 216.46M20.9 241.89L20.9 248.3M18.5 202.34L18.5 245.1M17 126.87L17 223.72M16 175.3L16 251.6M20.5 286.74L20.5 314.04M17.8 300.39L17.8 324.35M13.1 213.45L13.1 312.37M1.7 182L13.1 182M13.1 176L13.1 262.91" stroke="#41609a" stroke-width="1.1" fill="none"/></g>
<defs><linearGradient id="bb" x1="0" x2="1" y1="0" y2="0"><stop offset="0" stop-color="#1e3346"/><stop offset="0.1" stop-color="#3f7090"/><stop offset="0.24" stop-color="#8ac6e6"/><stop offset="0.42" stop-color="#6aa8d6"/><stop offset="0.62" stop-color="#3468a8"/><stop offset="0.8" stop-color="#1f3070"/><stop offset="1" stop-color="#1a1848"/></linearGradient><linearGradient id="cb" x1="0" x2="0" y1="0" y2="1"><stop offset="0" stop-color="#a0104c"/><stop offset="0.2" stop-color="#cc2c6a"/><stop offset="0.31" stop-color="#dc5078"/><stop offset="0.41" stop-color="#e6785e"/><stop offset="0.475" stop-color="#e8983e"/><stop offset="0.54" stop-color="#d8b444"/><stop offset="0.6" stop-color="#a8c040"/><stop offset="0.7" stop-color="#64a832"/><stop offset="1" stop-color="#2a7a28"/></linearGradient></defs>
<rect x="101.5" y="87.5" width="5.1" height="60.8" fill="url(#bb)" stroke="#1c2440" stroke-width="0.7"/>
<rect x="487.4" y="101.5" width="2" height="154.8" fill="url(#cb)"/>
<g font-family="Liberation Sans, sans-serif" font-size="9.6" fill="#000" stroke="#000" stroke-width="0.3" filter="url(#bl2)"><text x="491.5" y="107.8">x 10</text><text x="492.4" y="177.6">0</text><text x="492.3" y="257.9">x 1/10</text></g>
<g font-family="Liberation Sans, sans-serif" font-size="9.7" fill="#111" stroke="#111" stroke-width="0.2" filter="url(#bl2)"><text transform="translate(116.05 374.5) rotate(-90)">B12 def</text><text transform="translate(128.56 374.5) rotate(-90)">RhA 1</text><text transform="translate(141.07 374.5) rotate(-90)">Folate def</text><text transform="translate(153.57 374.5) rotate(-90)">Normal 1</text><text transform="translate(166.08 374.5) rotate(-90)">Normal 9</text><text transform="translate(178.59 374.5) rotate(-90)">Normal 4</text><text transform="translate(191.1 374.5) rotate(-90)">Normal 5</text><text transform="translate(203.6 374.5) rotate(-90)">Normal 6</text><text transform="translate(216.11 374.5) rotate(-90)">Normal 7</text><text transform="translate(228.62 374.5) rotate(-90)">Normal 3</text><text transform="translate(241.12 374.5) rotate(-90)">Normal 2</text><text transform="translate(253.63 374.5) rotate(-90)">Normal 8</text><text transform="translate(266.14 374.5) rotate(-90)">MDS 1</text><text transform="translate(278.65 374.5) rotate(-90)">RhA 3</text><text transform="translate(291.15 374.5) rotate(-90)">MDS 10</text><text transform="translate(303.66 374.5) rotate(-90)">MDS 14</text><text transform="translate(316.17 374.5) rotate(-90)">MDS 2</text><text transform="translate(328.68 374.5) rotate(-90)">MDS 5</text><text transform="translate(341.18 374.5) rotate(-90)">MDS 6</text><text transform="translate(353.69 374.5) rotate(-90)">MDS 13</text><text transform="translate(366.2 374.5) rotate(-90)">MDS 3</text><text transform="translate(378.7 374.5) rotate(-90)">MDS 14</text><text transform="translate(391.21 374.5) rotate(-90)">MDS 7</text><text transform="translate(403.72 374.5) rotate(-90)">MDS 8</text><text transform="translate(416.22 374.5) rotate(-90)">MDS 11</text><text transform="translate(428.73 374.5) rotate(-90)">RhA 2</text><text transform="translate(441.24 374.5) rotate(-90)">MDS 12</text><text transform="translate(453.75 374.5) rotate(-90)">MDS 9</text></g>
<path d="M103 381V385H255.6V381" stroke="#a81c2a" stroke-width="1.1" fill="none"/>
<path d="M258.9 381V385.2H457.1V381" stroke="#3f7f3d" stroke-width="1.1" fill="none"/>
</svg>
</body></html>
